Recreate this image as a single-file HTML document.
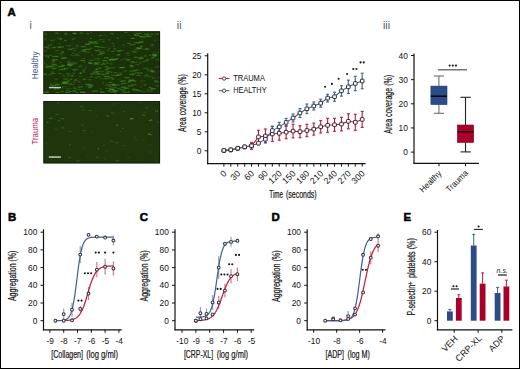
<!DOCTYPE html>
<html><head><meta charset="utf-8"><style>
html,body{margin:0;padding:0;background:#fff;}
svg{display:block;font-family:"Liberation Sans", sans-serif;}
</style></head><body>
<svg width="520" height="369" viewBox="0 0 520 369">
<rect x="0.5" y="0.5" width="519" height="368" fill="#fff" stroke="#000" stroke-width="1"/>
<text x="7.60" y="16.00" font-size="11.4" text-anchor="start" fill="#000" font-weight="bold" stroke="#000" stroke-width="0.55" stroke-linejoin="round">A</text>
<text x="7.90" y="220.90" font-size="11.4" text-anchor="start" fill="#000" font-weight="bold" stroke="#000" stroke-width="0.55" stroke-linejoin="round">B</text>
<text x="139.70" y="220.90" font-size="11.4" text-anchor="start" fill="#000" font-weight="bold" stroke="#000" stroke-width="0.55" stroke-linejoin="round">C</text>
<text x="271.60" y="220.90" font-size="11.4" text-anchor="start" fill="#000" font-weight="bold" stroke="#000" stroke-width="0.55" stroke-linejoin="round">D</text>
<text x="403.50" y="220.90" font-size="11.4" text-anchor="start" fill="#000" font-weight="bold" stroke="#000" stroke-width="0.55" stroke-linejoin="round">E</text>
<text x="29.60" y="28.60" font-size="10.5" text-anchor="start" fill="#555" font-weight="normal" >i</text>
<text x="176.80" y="28.80" font-size="10.5" text-anchor="start" fill="#555" font-weight="normal" >ii</text>
<text x="383.00" y="28.80" font-size="10.5" text-anchor="start" fill="#555" font-weight="normal" >iii</text>
<defs><clipPath id="c1"><rect x="43.5" y="31.4" width="116.5" height="62.5"/></clipPath><clipPath id="c2"><rect x="43.5" y="101.1" width="116.5" height="62.2"/></clipPath><filter id="blur" x="-20%" y="-50%" width="140%" height="200%"><feGaussianBlur stdDeviation="0.6"/></filter></defs>
<rect x="43.5" y="31.4" width="116.5" height="62.5" fill="#1a310a"/>
<g clip-path="url(#c1)"><g filter="url(#blur)">
<ellipse cx="59.2" cy="84.2" rx="1.2" ry="0.7" fill="#449026" opacity="0.22"/>
<ellipse cx="60.9" cy="84.3" rx="1.5" ry="0.7" fill="#449026" opacity="0.23"/>
<ellipse cx="132.9" cy="74.7" rx="0.9" ry="0.8" fill="#4a9a2a" opacity="0.43"/>
<ellipse cx="152.9" cy="55.2" rx="1.2" ry="0.6" fill="#5aaa36" opacity="0.43"/>
<ellipse cx="154.6" cy="55.1" rx="1.1" ry="0.6" fill="#5aaa36" opacity="0.47"/>
<ellipse cx="156.3" cy="55.0" rx="1.1" ry="0.6" fill="#5aaa36" opacity="0.54"/>
<ellipse cx="108.3" cy="71.5" rx="1.6" ry="0.8" fill="#449026" opacity="0.26"/>
<ellipse cx="110.0" cy="71.7" rx="1.3" ry="0.8" fill="#449026" opacity="0.20"/>
<ellipse cx="76.6" cy="92.2" rx="1.4" ry="0.7" fill="#52a030" opacity="0.36"/>
<ellipse cx="86.3" cy="86.6" rx="1.4" ry="0.7" fill="#449026" opacity="0.20"/>
<ellipse cx="88.0" cy="86.3" rx="1.2" ry="0.7" fill="#449026" opacity="0.17"/>
<ellipse cx="89.7" cy="86.8" rx="1.4" ry="0.7" fill="#449026" opacity="0.21"/>
<ellipse cx="89.4" cy="42.0" rx="1.3" ry="0.8" fill="#3f8a22" opacity="0.47"/>
<ellipse cx="91.1" cy="42.0" rx="1.5" ry="0.8" fill="#3f8a22" opacity="0.57"/>
<ellipse cx="92.8" cy="42.1" rx="1.4" ry="0.8" fill="#3f8a22" opacity="0.54"/>
<ellipse cx="88.2" cy="85.2" rx="1.0" ry="0.8" fill="#52a030" opacity="0.51"/>
<ellipse cx="89.9" cy="85.0" rx="1.2" ry="0.8" fill="#52a030" opacity="0.59"/>
<ellipse cx="91.6" cy="85.1" rx="1.2" ry="0.8" fill="#52a030" opacity="0.50"/>
<ellipse cx="43.7" cy="65.2" rx="1.3" ry="0.8" fill="#449026" opacity="0.32"/>
<ellipse cx="54.2" cy="65.8" rx="1.5" ry="0.6" fill="#449026" opacity="0.20"/>
<ellipse cx="55.9" cy="65.7" rx="1.1" ry="0.6" fill="#449026" opacity="0.20"/>
<ellipse cx="57.6" cy="65.7" rx="1.0" ry="0.6" fill="#449026" opacity="0.16"/>
<ellipse cx="73.2" cy="90.8" rx="1.0" ry="0.7" fill="#449026" opacity="0.34"/>
<ellipse cx="74.9" cy="90.8" rx="1.5" ry="0.7" fill="#449026" opacity="0.33"/>
<ellipse cx="128.6" cy="92.2" rx="1.2" ry="0.6" fill="#5aaa36" opacity="0.60"/>
<ellipse cx="95.4" cy="62.9" rx="1.3" ry="0.8" fill="#4a9a2a" opacity="0.62"/>
<ellipse cx="97.1" cy="63.1" rx="1.2" ry="0.8" fill="#4a9a2a" opacity="0.55"/>
<ellipse cx="98.8" cy="62.8" rx="1.3" ry="0.8" fill="#4a9a2a" opacity="0.54"/>
<ellipse cx="156.3" cy="86.0" rx="1.2" ry="0.8" fill="#3f8a22" opacity="0.25"/>
<ellipse cx="158.0" cy="85.9" rx="1.5" ry="0.8" fill="#3f8a22" opacity="0.34"/>
<ellipse cx="155.6" cy="67.1" rx="1.0" ry="0.6" fill="#52a030" opacity="0.44"/>
<ellipse cx="157.3" cy="67.0" rx="1.3" ry="0.6" fill="#52a030" opacity="0.45"/>
<ellipse cx="88.9" cy="62.8" rx="1.0" ry="0.6" fill="#52a030" opacity="0.63"/>
<ellipse cx="90.6" cy="62.8" rx="1.4" ry="0.6" fill="#52a030" opacity="0.49"/>
<ellipse cx="122.1" cy="83.8" rx="1.4" ry="0.7" fill="#449026" opacity="0.47"/>
<ellipse cx="123.8" cy="83.6" rx="0.9" ry="0.7" fill="#449026" opacity="0.49"/>
<ellipse cx="125.5" cy="83.6" rx="1.3" ry="0.7" fill="#449026" opacity="0.53"/>
<ellipse cx="102.4" cy="47.4" rx="1.4" ry="0.8" fill="#3f8a22" opacity="0.30"/>
<ellipse cx="104.1" cy="47.3" rx="1.4" ry="0.8" fill="#3f8a22" opacity="0.28"/>
<ellipse cx="105.8" cy="47.6" rx="1.2" ry="0.8" fill="#3f8a22" opacity="0.26"/>
<ellipse cx="58.1" cy="38.5" rx="1.0" ry="0.6" fill="#5aaa36" opacity="0.23"/>
<ellipse cx="59.8" cy="38.8" rx="1.3" ry="0.6" fill="#5aaa36" opacity="0.20"/>
<ellipse cx="61.5" cy="38.7" rx="1.1" ry="0.6" fill="#5aaa36" opacity="0.23"/>
<ellipse cx="44.9" cy="73.3" rx="1.4" ry="0.6" fill="#3f8a22" opacity="0.46"/>
<ellipse cx="96.0" cy="74.1" rx="1.3" ry="0.8" fill="#3f8a22" opacity="0.36"/>
<ellipse cx="97.7" cy="73.9" rx="1.4" ry="0.8" fill="#3f8a22" opacity="0.32"/>
<ellipse cx="80.5" cy="32.9" rx="1.1" ry="0.7" fill="#449026" opacity="0.55"/>
<ellipse cx="82.2" cy="33.3" rx="1.6" ry="0.7" fill="#449026" opacity="0.41"/>
<ellipse cx="68.6" cy="65.3" rx="1.0" ry="0.6" fill="#449026" opacity="0.31"/>
<ellipse cx="70.3" cy="65.5" rx="1.0" ry="0.6" fill="#449026" opacity="0.24"/>
<ellipse cx="72.0" cy="65.3" rx="1.3" ry="0.6" fill="#449026" opacity="0.25"/>
<ellipse cx="156.1" cy="34.0" rx="1.0" ry="0.6" fill="#52a030" opacity="0.61"/>
<ellipse cx="157.8" cy="33.8" rx="1.0" ry="0.6" fill="#52a030" opacity="0.61"/>
<ellipse cx="90.3" cy="76.8" rx="1.5" ry="0.7" fill="#3f8a22" opacity="0.29"/>
<ellipse cx="92.0" cy="76.8" rx="1.5" ry="0.7" fill="#3f8a22" opacity="0.34"/>
<ellipse cx="63.7" cy="82.6" rx="1.5" ry="0.6" fill="#3f8a22" opacity="0.54"/>
<ellipse cx="65.4" cy="82.7" rx="0.9" ry="0.6" fill="#3f8a22" opacity="0.54"/>
<ellipse cx="67.1" cy="83.0" rx="1.5" ry="0.6" fill="#3f8a22" opacity="0.53"/>
<ellipse cx="130.4" cy="74.4" rx="1.4" ry="0.8" fill="#5aaa36" opacity="0.34"/>
<ellipse cx="155.7" cy="81.8" rx="1.2" ry="0.7" fill="#52a030" opacity="0.33"/>
<ellipse cx="157.4" cy="82.0" rx="0.9" ry="0.7" fill="#52a030" opacity="0.35"/>
<ellipse cx="159.1" cy="81.7" rx="1.3" ry="0.7" fill="#52a030" opacity="0.34"/>
<ellipse cx="59.6" cy="39.2" rx="1.0" ry="0.6" fill="#449026" opacity="0.30"/>
<ellipse cx="61.3" cy="39.4" rx="1.1" ry="0.6" fill="#449026" opacity="0.39"/>
<ellipse cx="151.9" cy="71.3" rx="1.4" ry="0.8" fill="#449026" opacity="0.40"/>
<ellipse cx="153.6" cy="71.4" rx="1.4" ry="0.8" fill="#449026" opacity="0.44"/>
<ellipse cx="69.1" cy="89.2" rx="1.4" ry="0.6" fill="#449026" opacity="0.23"/>
<ellipse cx="125.2" cy="77.3" rx="1.0" ry="0.7" fill="#3f8a22" opacity="0.50"/>
<ellipse cx="126.9" cy="77.6" rx="1.3" ry="0.7" fill="#3f8a22" opacity="0.46"/>
<ellipse cx="128.6" cy="77.5" rx="1.4" ry="0.7" fill="#3f8a22" opacity="0.52"/>
<ellipse cx="103.5" cy="41.6" rx="1.3" ry="0.8" fill="#3f8a22" opacity="0.45"/>
<ellipse cx="155.3" cy="40.2" rx="1.2" ry="0.8" fill="#3f8a22" opacity="0.35"/>
<ellipse cx="62.7" cy="51.9" rx="1.3" ry="0.7" fill="#5aaa36" opacity="0.61"/>
<ellipse cx="75.8" cy="55.1" rx="1.3" ry="0.6" fill="#4a9a2a" opacity="0.44"/>
<ellipse cx="77.5" cy="55.0" rx="1.0" ry="0.6" fill="#4a9a2a" opacity="0.40"/>
<ellipse cx="79.2" cy="55.1" rx="1.1" ry="0.6" fill="#4a9a2a" opacity="0.36"/>
<ellipse cx="123.1" cy="80.7" rx="1.0" ry="0.7" fill="#4a9a2a" opacity="0.46"/>
<ellipse cx="124.8" cy="81.0" rx="1.0" ry="0.7" fill="#4a9a2a" opacity="0.46"/>
<ellipse cx="46.3" cy="67.0" rx="1.0" ry="0.8" fill="#449026" opacity="0.59"/>
<ellipse cx="48.0" cy="67.0" rx="1.1" ry="0.8" fill="#449026" opacity="0.55"/>
<ellipse cx="49.7" cy="66.7" rx="1.3" ry="0.8" fill="#449026" opacity="0.57"/>
<ellipse cx="95.9" cy="50.5" rx="1.2" ry="0.8" fill="#52a030" opacity="0.45"/>
<ellipse cx="97.6" cy="50.6" rx="1.3" ry="0.8" fill="#52a030" opacity="0.41"/>
<ellipse cx="99.3" cy="50.3" rx="1.4" ry="0.8" fill="#52a030" opacity="0.44"/>
<ellipse cx="113.5" cy="75.3" rx="1.2" ry="0.6" fill="#52a030" opacity="0.25"/>
<ellipse cx="115.2" cy="75.4" rx="1.5" ry="0.6" fill="#52a030" opacity="0.27"/>
<ellipse cx="116.9" cy="75.5" rx="1.5" ry="0.6" fill="#52a030" opacity="0.25"/>
<ellipse cx="130.4" cy="71.4" rx="1.4" ry="0.6" fill="#3f8a22" opacity="0.32"/>
<ellipse cx="132.1" cy="71.2" rx="1.0" ry="0.6" fill="#3f8a22" opacity="0.38"/>
<ellipse cx="133.8" cy="71.6" rx="0.9" ry="0.6" fill="#3f8a22" opacity="0.38"/>
<ellipse cx="91.4" cy="74.1" rx="1.3" ry="0.6" fill="#5aaa36" opacity="0.45"/>
<ellipse cx="93.1" cy="74.0" rx="1.3" ry="0.6" fill="#5aaa36" opacity="0.44"/>
<ellipse cx="95.0" cy="41.6" rx="1.1" ry="0.7" fill="#4a9a2a" opacity="0.47"/>
<ellipse cx="96.7" cy="41.6" rx="1.1" ry="0.7" fill="#4a9a2a" opacity="0.39"/>
<ellipse cx="125.0" cy="88.4" rx="1.1" ry="0.6" fill="#5aaa36" opacity="0.46"/>
<ellipse cx="126.7" cy="88.2" rx="1.3" ry="0.6" fill="#5aaa36" opacity="0.42"/>
<ellipse cx="128.4" cy="88.2" rx="1.2" ry="0.6" fill="#5aaa36" opacity="0.39"/>
<ellipse cx="73.7" cy="69.7" rx="1.4" ry="0.6" fill="#449026" opacity="0.65"/>
<ellipse cx="75.4" cy="69.8" rx="1.2" ry="0.6" fill="#449026" opacity="0.67"/>
<ellipse cx="77.1" cy="69.4" rx="1.1" ry="0.6" fill="#449026" opacity="0.49"/>
<ellipse cx="128.8" cy="85.8" rx="1.6" ry="0.6" fill="#52a030" opacity="0.49"/>
<ellipse cx="130.5" cy="86.0" rx="1.4" ry="0.6" fill="#52a030" opacity="0.55"/>
<ellipse cx="132.2" cy="85.8" rx="1.1" ry="0.6" fill="#52a030" opacity="0.48"/>
<ellipse cx="67.5" cy="73.8" rx="1.6" ry="0.8" fill="#4a9a2a" opacity="0.38"/>
<ellipse cx="69.2" cy="74.1" rx="0.9" ry="0.8" fill="#4a9a2a" opacity="0.36"/>
<ellipse cx="101.1" cy="64.5" rx="1.0" ry="0.8" fill="#52a030" opacity="0.31"/>
<ellipse cx="102.8" cy="64.4" rx="1.2" ry="0.8" fill="#52a030" opacity="0.34"/>
<ellipse cx="104.5" cy="64.3" rx="1.0" ry="0.8" fill="#52a030" opacity="0.40"/>
<ellipse cx="97.4" cy="67.4" rx="1.0" ry="0.6" fill="#449026" opacity="0.26"/>
<ellipse cx="99.1" cy="67.6" rx="0.9" ry="0.6" fill="#449026" opacity="0.35"/>
<ellipse cx="100.8" cy="67.5" rx="1.5" ry="0.6" fill="#449026" opacity="0.28"/>
<ellipse cx="62.1" cy="82.9" rx="1.3" ry="0.8" fill="#3f8a22" opacity="0.16"/>
<ellipse cx="52.8" cy="72.4" rx="1.0" ry="0.7" fill="#3f8a22" opacity="0.20"/>
<ellipse cx="93.9" cy="43.3" rx="1.0" ry="0.8" fill="#4a9a2a" opacity="0.46"/>
<ellipse cx="95.6" cy="43.2" rx="1.1" ry="0.8" fill="#4a9a2a" opacity="0.51"/>
<ellipse cx="97.3" cy="43.3" rx="1.1" ry="0.8" fill="#4a9a2a" opacity="0.54"/>
<ellipse cx="63.9" cy="58.3" rx="1.3" ry="0.7" fill="#52a030" opacity="0.59"/>
<ellipse cx="65.6" cy="58.0" rx="1.5" ry="0.7" fill="#52a030" opacity="0.53"/>
<ellipse cx="114.6" cy="92.1" rx="1.0" ry="0.6" fill="#4a9a2a" opacity="0.49"/>
<ellipse cx="117.7" cy="88.4" rx="1.3" ry="0.6" fill="#52a030" opacity="0.28"/>
<ellipse cx="119.4" cy="88.5" rx="1.2" ry="0.6" fill="#52a030" opacity="0.37"/>
<ellipse cx="46.4" cy="64.1" rx="0.9" ry="0.8" fill="#449026" opacity="0.22"/>
<ellipse cx="73.8" cy="55.4" rx="1.0" ry="0.7" fill="#449026" opacity="0.21"/>
<ellipse cx="89.1" cy="87.6" rx="1.3" ry="0.7" fill="#4a9a2a" opacity="0.46"/>
<ellipse cx="90.8" cy="87.1" rx="1.3" ry="0.7" fill="#4a9a2a" opacity="0.52"/>
<ellipse cx="159.0" cy="77.6" rx="1.0" ry="0.7" fill="#5aaa36" opacity="0.36"/>
<ellipse cx="136.6" cy="64.5" rx="1.3" ry="0.8" fill="#449026" opacity="0.28"/>
<ellipse cx="138.3" cy="64.9" rx="1.1" ry="0.8" fill="#449026" opacity="0.35"/>
<ellipse cx="110.3" cy="59.9" rx="1.5" ry="0.8" fill="#5aaa36" opacity="0.64"/>
<ellipse cx="112.0" cy="59.5" rx="1.5" ry="0.8" fill="#5aaa36" opacity="0.56"/>
<ellipse cx="113.7" cy="59.9" rx="1.3" ry="0.8" fill="#5aaa36" opacity="0.61"/>
<ellipse cx="125.4" cy="78.1" rx="1.1" ry="0.7" fill="#449026" opacity="0.28"/>
<ellipse cx="127.1" cy="77.9" rx="1.1" ry="0.7" fill="#449026" opacity="0.30"/>
<ellipse cx="56.6" cy="79.4" rx="1.4" ry="0.8" fill="#52a030" opacity="0.17"/>
<ellipse cx="51.3" cy="67.3" rx="1.0" ry="0.7" fill="#3f8a22" opacity="0.42"/>
<ellipse cx="86.4" cy="84.6" rx="1.5" ry="0.7" fill="#449026" opacity="0.26"/>
<ellipse cx="122.2" cy="81.3" rx="1.4" ry="0.8" fill="#449026" opacity="0.34"/>
<ellipse cx="90.5" cy="86.4" rx="1.2" ry="0.8" fill="#52a030" opacity="0.33"/>
<ellipse cx="92.2" cy="86.3" rx="1.4" ry="0.8" fill="#52a030" opacity="0.30"/>
<ellipse cx="78.8" cy="87.1" rx="1.2" ry="0.6" fill="#52a030" opacity="0.51"/>
<ellipse cx="80.5" cy="86.9" rx="1.3" ry="0.6" fill="#52a030" opacity="0.46"/>
<ellipse cx="82.2" cy="86.7" rx="1.2" ry="0.6" fill="#52a030" opacity="0.44"/>
<ellipse cx="59.8" cy="47.1" rx="1.2" ry="0.6" fill="#5aaa36" opacity="0.51"/>
<ellipse cx="61.5" cy="47.0" rx="1.4" ry="0.6" fill="#5aaa36" opacity="0.41"/>
<ellipse cx="63.2" cy="46.9" rx="1.0" ry="0.6" fill="#5aaa36" opacity="0.44"/>
<ellipse cx="75.2" cy="80.2" rx="1.0" ry="0.7" fill="#5aaa36" opacity="0.48"/>
<ellipse cx="76.9" cy="80.1" rx="0.9" ry="0.7" fill="#5aaa36" opacity="0.45"/>
<ellipse cx="143.4" cy="68.1" rx="1.2" ry="0.6" fill="#5aaa36" opacity="0.26"/>
<ellipse cx="145.1" cy="68.1" rx="1.5" ry="0.6" fill="#5aaa36" opacity="0.31"/>
<ellipse cx="146.8" cy="68.2" rx="1.6" ry="0.6" fill="#5aaa36" opacity="0.27"/>
<ellipse cx="51.0" cy="44.2" rx="1.6" ry="0.7" fill="#3f8a22" opacity="0.23"/>
<ellipse cx="140.7" cy="37.0" rx="0.9" ry="0.7" fill="#3f8a22" opacity="0.46"/>
<ellipse cx="142.4" cy="37.1" rx="1.4" ry="0.7" fill="#3f8a22" opacity="0.45"/>
<ellipse cx="144.1" cy="37.2" rx="1.4" ry="0.7" fill="#3f8a22" opacity="0.43"/>
<ellipse cx="64.4" cy="81.5" rx="1.5" ry="0.7" fill="#3f8a22" opacity="0.49"/>
<ellipse cx="66.1" cy="81.7" rx="1.4" ry="0.7" fill="#3f8a22" opacity="0.49"/>
<ellipse cx="67.8" cy="81.7" rx="1.3" ry="0.7" fill="#3f8a22" opacity="0.44"/>
<ellipse cx="115.0" cy="75.5" rx="1.2" ry="0.6" fill="#449026" opacity="0.35"/>
<ellipse cx="116.7" cy="75.4" rx="1.1" ry="0.6" fill="#449026" opacity="0.33"/>
<ellipse cx="118.4" cy="75.1" rx="1.2" ry="0.6" fill="#449026" opacity="0.41"/>
<ellipse cx="120.1" cy="89.4" rx="1.4" ry="0.7" fill="#449026" opacity="0.18"/>
<ellipse cx="121.8" cy="89.4" rx="1.1" ry="0.7" fill="#449026" opacity="0.19"/>
<ellipse cx="123.5" cy="89.1" rx="1.0" ry="0.7" fill="#449026" opacity="0.20"/>
<ellipse cx="113.2" cy="91.3" rx="1.2" ry="0.6" fill="#52a030" opacity="0.39"/>
<ellipse cx="114.9" cy="91.5" rx="1.2" ry="0.6" fill="#52a030" opacity="0.35"/>
<ellipse cx="64.0" cy="78.8" rx="1.3" ry="0.6" fill="#52a030" opacity="0.41"/>
<ellipse cx="65.7" cy="79.1" rx="1.4" ry="0.6" fill="#52a030" opacity="0.42"/>
<ellipse cx="67.4" cy="78.8" rx="1.3" ry="0.6" fill="#52a030" opacity="0.40"/>
<ellipse cx="146.9" cy="74.9" rx="1.4" ry="0.7" fill="#52a030" opacity="0.47"/>
<ellipse cx="109.6" cy="86.8" rx="1.1" ry="0.8" fill="#3f8a22" opacity="0.46"/>
<ellipse cx="111.3" cy="86.8" rx="1.3" ry="0.8" fill="#3f8a22" opacity="0.46"/>
<ellipse cx="127.2" cy="55.1" rx="1.0" ry="0.8" fill="#449026" opacity="0.22"/>
<ellipse cx="128.9" cy="55.4" rx="1.0" ry="0.8" fill="#449026" opacity="0.21"/>
<ellipse cx="72.5" cy="64.6" rx="1.4" ry="0.7" fill="#3f8a22" opacity="0.20"/>
<ellipse cx="74.2" cy="64.3" rx="1.1" ry="0.7" fill="#3f8a22" opacity="0.26"/>
<ellipse cx="155.2" cy="80.9" rx="1.4" ry="0.7" fill="#4a9a2a" opacity="0.43"/>
<ellipse cx="156.9" cy="80.9" rx="1.3" ry="0.7" fill="#4a9a2a" opacity="0.41"/>
<ellipse cx="148.2" cy="70.9" rx="1.1" ry="0.6" fill="#3f8a22" opacity="0.43"/>
<ellipse cx="72.7" cy="48.4" rx="1.2" ry="0.6" fill="#5aaa36" opacity="0.23"/>
<ellipse cx="74.4" cy="48.5" rx="1.3" ry="0.6" fill="#5aaa36" opacity="0.24"/>
<ellipse cx="76.1" cy="48.1" rx="1.4" ry="0.6" fill="#5aaa36" opacity="0.21"/>
<ellipse cx="123.0" cy="44.9" rx="1.5" ry="0.6" fill="#449026" opacity="0.32"/>
<ellipse cx="124.7" cy="45.0" rx="1.0" ry="0.6" fill="#449026" opacity="0.30"/>
<ellipse cx="121.2" cy="81.3" rx="1.4" ry="0.8" fill="#3f8a22" opacity="0.41"/>
<ellipse cx="146.3" cy="60.2" rx="1.2" ry="0.8" fill="#52a030" opacity="0.39"/>
<ellipse cx="148.0" cy="59.9" rx="1.2" ry="0.8" fill="#52a030" opacity="0.49"/>
<ellipse cx="43.6" cy="34.1" rx="1.4" ry="0.7" fill="#4a9a2a" opacity="0.46"/>
<ellipse cx="45.3" cy="34.0" rx="1.1" ry="0.7" fill="#4a9a2a" opacity="0.42"/>
<ellipse cx="151.6" cy="70.2" rx="1.5" ry="0.8" fill="#449026" opacity="0.61"/>
<ellipse cx="83.8" cy="79.6" rx="1.5" ry="0.6" fill="#5aaa36" opacity="0.37"/>
<ellipse cx="85.5" cy="79.7" rx="1.3" ry="0.6" fill="#5aaa36" opacity="0.29"/>
<ellipse cx="121.9" cy="87.1" rx="1.3" ry="0.6" fill="#5aaa36" opacity="0.49"/>
<ellipse cx="123.6" cy="87.3" rx="1.3" ry="0.6" fill="#5aaa36" opacity="0.53"/>
<ellipse cx="125.3" cy="87.0" rx="1.1" ry="0.6" fill="#5aaa36" opacity="0.64"/>
<ellipse cx="81.8" cy="46.6" rx="1.4" ry="0.8" fill="#5aaa36" opacity="0.32"/>
<ellipse cx="83.5" cy="46.8" rx="1.3" ry="0.8" fill="#5aaa36" opacity="0.38"/>
<ellipse cx="85.2" cy="46.5" rx="1.5" ry="0.8" fill="#5aaa36" opacity="0.31"/>
<ellipse cx="56.2" cy="32.9" rx="1.5" ry="0.8" fill="#4a9a2a" opacity="0.32"/>
<ellipse cx="57.9" cy="33.2" rx="1.6" ry="0.8" fill="#4a9a2a" opacity="0.42"/>
<ellipse cx="45.7" cy="56.1" rx="1.3" ry="0.8" fill="#4a9a2a" opacity="0.39"/>
<ellipse cx="47.4" cy="56.0" rx="1.0" ry="0.8" fill="#4a9a2a" opacity="0.42"/>
<ellipse cx="52.4" cy="64.8" rx="1.1" ry="0.6" fill="#4a9a2a" opacity="0.20"/>
<ellipse cx="54.1" cy="64.8" rx="1.3" ry="0.6" fill="#4a9a2a" opacity="0.24"/>
<ellipse cx="55.8" cy="65.2" rx="1.3" ry="0.6" fill="#4a9a2a" opacity="0.21"/>
<ellipse cx="89.9" cy="60.2" rx="1.5" ry="0.6" fill="#3f8a22" opacity="0.34"/>
<ellipse cx="91.6" cy="60.2" rx="1.4" ry="0.6" fill="#3f8a22" opacity="0.38"/>
<ellipse cx="93.3" cy="60.6" rx="1.2" ry="0.6" fill="#3f8a22" opacity="0.30"/>
<ellipse cx="59.0" cy="66.6" rx="1.3" ry="0.8" fill="#52a030" opacity="0.47"/>
<ellipse cx="60.7" cy="66.5" rx="1.5" ry="0.8" fill="#52a030" opacity="0.41"/>
<ellipse cx="62.4" cy="66.4" rx="1.5" ry="0.8" fill="#52a030" opacity="0.41"/>
<ellipse cx="63.9" cy="76.4" rx="1.1" ry="0.6" fill="#449026" opacity="0.32"/>
<ellipse cx="45.1" cy="91.0" rx="1.0" ry="0.7" fill="#4a9a2a" opacity="0.29"/>
<ellipse cx="46.8" cy="91.0" rx="1.3" ry="0.7" fill="#4a9a2a" opacity="0.24"/>
<ellipse cx="48.5" cy="91.1" rx="1.0" ry="0.7" fill="#4a9a2a" opacity="0.22"/>
<ellipse cx="135.1" cy="35.0" rx="1.0" ry="0.7" fill="#5aaa36" opacity="0.30"/>
<ellipse cx="71.6" cy="55.2" rx="1.4" ry="0.6" fill="#5aaa36" opacity="0.33"/>
<ellipse cx="53.8" cy="83.2" rx="1.3" ry="0.7" fill="#5aaa36" opacity="0.16"/>
<ellipse cx="55.5" cy="83.3" rx="0.9" ry="0.7" fill="#5aaa36" opacity="0.17"/>
<ellipse cx="57.2" cy="83.3" rx="1.5" ry="0.7" fill="#5aaa36" opacity="0.19"/>
<ellipse cx="55.5" cy="85.0" rx="1.0" ry="0.7" fill="#4a9a2a" opacity="0.52"/>
<ellipse cx="57.2" cy="84.7" rx="1.5" ry="0.7" fill="#4a9a2a" opacity="0.56"/>
<ellipse cx="58.9" cy="84.9" rx="1.0" ry="0.7" fill="#4a9a2a" opacity="0.44"/>
<ellipse cx="43.9" cy="38.7" rx="1.1" ry="0.7" fill="#52a030" opacity="0.29"/>
<ellipse cx="45.6" cy="39.0" rx="1.4" ry="0.7" fill="#52a030" opacity="0.30"/>
<ellipse cx="91.3" cy="48.3" rx="1.5" ry="0.8" fill="#5aaa36" opacity="0.24"/>
<ellipse cx="131.3" cy="62.0" rx="1.0" ry="0.8" fill="#52a030" opacity="0.44"/>
<ellipse cx="133.0" cy="61.9" rx="1.2" ry="0.8" fill="#52a030" opacity="0.60"/>
<ellipse cx="112.9" cy="43.5" rx="1.5" ry="0.7" fill="#52a030" opacity="0.35"/>
<ellipse cx="51.0" cy="88.0" rx="1.6" ry="0.8" fill="#52a030" opacity="0.25"/>
<ellipse cx="51.1" cy="85.5" rx="1.4" ry="0.8" fill="#3f8a22" opacity="0.68"/>
<ellipse cx="52.8" cy="85.7" rx="1.2" ry="0.8" fill="#3f8a22" opacity="0.60"/>
<ellipse cx="54.5" cy="85.5" rx="1.5" ry="0.8" fill="#3f8a22" opacity="0.58"/>
<ellipse cx="112.1" cy="51.4" rx="1.3" ry="0.6" fill="#52a030" opacity="0.39"/>
<ellipse cx="113.8" cy="51.2" rx="1.2" ry="0.6" fill="#52a030" opacity="0.34"/>
<ellipse cx="111.3" cy="33.5" rx="1.4" ry="0.8" fill="#3f8a22" opacity="0.53"/>
<ellipse cx="113.0" cy="33.9" rx="1.0" ry="0.8" fill="#3f8a22" opacity="0.47"/>
<ellipse cx="106.4" cy="88.4" rx="1.2" ry="0.7" fill="#4a9a2a" opacity="0.54"/>
<ellipse cx="85.4" cy="52.9" rx="1.1" ry="0.8" fill="#449026" opacity="0.20"/>
<ellipse cx="89.8" cy="49.1" rx="1.6" ry="0.8" fill="#3f8a22" opacity="0.18"/>
<ellipse cx="107.7" cy="71.6" rx="1.3" ry="0.6" fill="#3f8a22" opacity="0.32"/>
<ellipse cx="109.4" cy="71.5" rx="1.0" ry="0.6" fill="#3f8a22" opacity="0.29"/>
<ellipse cx="83.1" cy="50.1" rx="0.9" ry="0.8" fill="#3f8a22" opacity="0.35"/>
<ellipse cx="84.8" cy="49.9" rx="1.0" ry="0.8" fill="#3f8a22" opacity="0.38"/>
<ellipse cx="125.3" cy="71.0" rx="1.3" ry="0.6" fill="#4a9a2a" opacity="0.58"/>
<ellipse cx="127.6" cy="60.0" rx="1.3" ry="0.8" fill="#449026" opacity="0.67"/>
<ellipse cx="129.3" cy="59.8" rx="1.3" ry="0.8" fill="#449026" opacity="0.58"/>
<ellipse cx="62.7" cy="87.8" rx="1.0" ry="0.7" fill="#4a9a2a" opacity="0.44"/>
<ellipse cx="95.1" cy="46.4" rx="1.3" ry="0.6" fill="#449026" opacity="0.35"/>
<ellipse cx="96.8" cy="46.6" rx="1.6" ry="0.6" fill="#449026" opacity="0.35"/>
<ellipse cx="98.5" cy="46.6" rx="1.2" ry="0.6" fill="#449026" opacity="0.39"/>
<ellipse cx="120.3" cy="67.5" rx="1.0" ry="0.7" fill="#5aaa36" opacity="0.56"/>
<ellipse cx="122.0" cy="67.7" rx="1.5" ry="0.7" fill="#5aaa36" opacity="0.58"/>
<ellipse cx="123.7" cy="67.5" rx="1.3" ry="0.7" fill="#5aaa36" opacity="0.52"/>
<ellipse cx="99.1" cy="73.9" rx="1.4" ry="0.8" fill="#5aaa36" opacity="0.44"/>
<ellipse cx="137.4" cy="69.3" rx="1.2" ry="0.8" fill="#449026" opacity="0.18"/>
<ellipse cx="67.9" cy="61.3" rx="1.0" ry="0.6" fill="#4a9a2a" opacity="0.38"/>
<ellipse cx="69.6" cy="61.2" rx="1.1" ry="0.6" fill="#4a9a2a" opacity="0.28"/>
<ellipse cx="87.6" cy="51.8" rx="1.4" ry="0.6" fill="#3f8a22" opacity="0.22"/>
<ellipse cx="134.5" cy="49.9" rx="1.0" ry="0.8" fill="#449026" opacity="0.27"/>
<ellipse cx="136.2" cy="49.7" rx="1.3" ry="0.8" fill="#449026" opacity="0.25"/>
<ellipse cx="137.9" cy="49.8" rx="1.2" ry="0.8" fill="#449026" opacity="0.27"/>
<ellipse cx="144.4" cy="36.1" rx="1.1" ry="0.6" fill="#4a9a2a" opacity="0.41"/>
<ellipse cx="146.1" cy="36.1" rx="1.3" ry="0.6" fill="#4a9a2a" opacity="0.40"/>
<ellipse cx="147.8" cy="36.0" rx="1.4" ry="0.6" fill="#4a9a2a" opacity="0.46"/>
<ellipse cx="123.6" cy="59.3" rx="1.1" ry="0.7" fill="#4a9a2a" opacity="0.18"/>
<ellipse cx="125.3" cy="59.0" rx="1.6" ry="0.7" fill="#4a9a2a" opacity="0.19"/>
<ellipse cx="137.9" cy="73.0" rx="1.3" ry="0.7" fill="#449026" opacity="0.53"/>
<ellipse cx="139.6" cy="73.1" rx="1.4" ry="0.7" fill="#449026" opacity="0.45"/>
<ellipse cx="141.3" cy="72.7" rx="1.2" ry="0.7" fill="#449026" opacity="0.42"/>
<ellipse cx="103.5" cy="63.3" rx="1.4" ry="0.6" fill="#3f8a22" opacity="0.63"/>
<ellipse cx="46.0" cy="34.8" rx="1.3" ry="0.7" fill="#449026" opacity="0.29"/>
<ellipse cx="111.3" cy="64.0" rx="1.3" ry="0.6" fill="#4a9a2a" opacity="0.24"/>
<ellipse cx="90.9" cy="32.6" rx="1.1" ry="0.6" fill="#3f8a22" opacity="0.42"/>
<ellipse cx="80.1" cy="76.6" rx="1.6" ry="0.8" fill="#5aaa36" opacity="0.20"/>
<ellipse cx="66.8" cy="45.8" rx="1.0" ry="0.8" fill="#3f8a22" opacity="0.28"/>
<ellipse cx="68.5" cy="45.7" rx="1.6" ry="0.8" fill="#3f8a22" opacity="0.26"/>
<ellipse cx="70.2" cy="45.7" rx="1.5" ry="0.8" fill="#3f8a22" opacity="0.28"/>
<ellipse cx="132.6" cy="51.6" rx="1.2" ry="0.7" fill="#52a030" opacity="0.37"/>
<ellipse cx="134.3" cy="52.0" rx="1.5" ry="0.7" fill="#52a030" opacity="0.34"/>
<ellipse cx="136.0" cy="51.5" rx="1.0" ry="0.7" fill="#52a030" opacity="0.37"/>
<ellipse cx="146.7" cy="89.6" rx="1.2" ry="0.7" fill="#449026" opacity="0.29"/>
<ellipse cx="148.4" cy="89.4" rx="1.0" ry="0.7" fill="#449026" opacity="0.35"/>
<ellipse cx="145.0" cy="75.9" rx="1.0" ry="0.6" fill="#5aaa36" opacity="0.40"/>
<ellipse cx="118.6" cy="50.9" rx="1.5" ry="0.8" fill="#52a030" opacity="0.27"/>
<ellipse cx="120.3" cy="50.8" rx="1.0" ry="0.8" fill="#52a030" opacity="0.37"/>
<ellipse cx="128.1" cy="43.4" rx="1.4" ry="0.8" fill="#449026" opacity="0.41"/>
<ellipse cx="129.8" cy="43.2" rx="1.1" ry="0.8" fill="#449026" opacity="0.45"/>
<ellipse cx="47.3" cy="48.3" rx="1.2" ry="0.6" fill="#4a9a2a" opacity="0.17"/>
<ellipse cx="49.0" cy="48.4" rx="1.6" ry="0.6" fill="#4a9a2a" opacity="0.16"/>
<ellipse cx="54.8" cy="39.9" rx="1.3" ry="0.6" fill="#449026" opacity="0.26"/>
<ellipse cx="113.4" cy="85.2" rx="1.5" ry="0.6" fill="#5aaa36" opacity="0.46"/>
<ellipse cx="115.1" cy="85.2" rx="1.1" ry="0.6" fill="#5aaa36" opacity="0.36"/>
<ellipse cx="133.5" cy="32.8" rx="1.1" ry="0.6" fill="#4a9a2a" opacity="0.17"/>
<ellipse cx="135.2" cy="32.8" rx="1.2" ry="0.6" fill="#4a9a2a" opacity="0.20"/>
<ellipse cx="62.7" cy="74.8" rx="1.5" ry="0.7" fill="#3f8a22" opacity="0.26"/>
<ellipse cx="64.4" cy="74.6" rx="1.1" ry="0.7" fill="#3f8a22" opacity="0.26"/>
<ellipse cx="120.9" cy="89.9" rx="1.1" ry="0.6" fill="#449026" opacity="0.39"/>
<ellipse cx="122.6" cy="89.8" rx="1.6" ry="0.6" fill="#449026" opacity="0.40"/>
<ellipse cx="124.3" cy="89.9" rx="1.6" ry="0.6" fill="#449026" opacity="0.39"/>
<ellipse cx="74.1" cy="82.3" rx="1.3" ry="0.6" fill="#5aaa36" opacity="0.34"/>
<ellipse cx="151.5" cy="44.9" rx="1.4" ry="0.7" fill="#52a030" opacity="0.36"/>
<ellipse cx="153.2" cy="45.0" rx="1.2" ry="0.7" fill="#52a030" opacity="0.39"/>
<ellipse cx="145.3" cy="55.9" rx="1.3" ry="0.6" fill="#5aaa36" opacity="0.49"/>
<ellipse cx="104.0" cy="60.6" rx="1.2" ry="0.7" fill="#449026" opacity="0.57"/>
<ellipse cx="109.0" cy="77.7" rx="1.1" ry="0.7" fill="#52a030" opacity="0.35"/>
<ellipse cx="110.7" cy="78.0" rx="1.3" ry="0.7" fill="#52a030" opacity="0.32"/>
<ellipse cx="112.4" cy="77.6" rx="1.5" ry="0.7" fill="#52a030" opacity="0.29"/>
<ellipse cx="151.9" cy="34.3" rx="1.2" ry="0.7" fill="#449026" opacity="0.66"/>
<ellipse cx="114.5" cy="59.4" rx="1.1" ry="0.6" fill="#4a9a2a" opacity="0.55"/>
<ellipse cx="116.2" cy="59.4" rx="1.0" ry="0.6" fill="#4a9a2a" opacity="0.61"/>
<ellipse cx="79.4" cy="66.3" rx="1.3" ry="0.6" fill="#5aaa36" opacity="0.40"/>
<ellipse cx="81.1" cy="65.9" rx="1.5" ry="0.6" fill="#5aaa36" opacity="0.34"/>
<ellipse cx="44.3" cy="92.7" rx="1.3" ry="0.8" fill="#5aaa36" opacity="0.53"/>
<ellipse cx="46.0" cy="92.9" rx="1.2" ry="0.8" fill="#5aaa36" opacity="0.40"/>
<ellipse cx="47.7" cy="92.5" rx="1.4" ry="0.8" fill="#5aaa36" opacity="0.45"/>
<ellipse cx="95.2" cy="42.8" rx="1.3" ry="0.8" fill="#52a030" opacity="0.17"/>
<ellipse cx="84.1" cy="78.4" rx="1.5" ry="0.7" fill="#449026" opacity="0.28"/>
<ellipse cx="70.3" cy="84.5" rx="1.6" ry="0.7" fill="#3f8a22" opacity="0.34"/>
<ellipse cx="72.0" cy="84.5" rx="1.0" ry="0.7" fill="#3f8a22" opacity="0.33"/>
<ellipse cx="73.7" cy="84.6" rx="1.5" ry="0.7" fill="#3f8a22" opacity="0.33"/>
<ellipse cx="60.9" cy="69.4" rx="1.0" ry="0.8" fill="#4a9a2a" opacity="0.46"/>
<ellipse cx="62.6" cy="69.5" rx="1.0" ry="0.8" fill="#4a9a2a" opacity="0.51"/>
<ellipse cx="64.3" cy="69.3" rx="1.1" ry="0.8" fill="#4a9a2a" opacity="0.54"/>
<ellipse cx="95.4" cy="77.7" rx="1.2" ry="0.6" fill="#52a030" opacity="0.33"/>
<ellipse cx="97.1" cy="77.7" rx="1.3" ry="0.6" fill="#52a030" opacity="0.31"/>
<ellipse cx="139.5" cy="90.8" rx="1.5" ry="0.7" fill="#449026" opacity="0.51"/>
<ellipse cx="141.2" cy="91.1" rx="1.5" ry="0.7" fill="#449026" opacity="0.42"/>
<ellipse cx="106.0" cy="85.3" rx="1.1" ry="0.8" fill="#3f8a22" opacity="0.47"/>
<ellipse cx="107.7" cy="85.1" rx="1.2" ry="0.8" fill="#3f8a22" opacity="0.53"/>
<ellipse cx="109.4" cy="85.2" rx="1.2" ry="0.8" fill="#3f8a22" opacity="0.56"/>
<ellipse cx="77.1" cy="45.7" rx="1.4" ry="0.6" fill="#5aaa36" opacity="0.43"/>
<ellipse cx="134.8" cy="70.1" rx="1.0" ry="0.6" fill="#4a9a2a" opacity="0.17"/>
<ellipse cx="136.5" cy="69.8" rx="0.9" ry="0.6" fill="#4a9a2a" opacity="0.22"/>
<ellipse cx="138.2" cy="69.7" rx="1.6" ry="0.6" fill="#4a9a2a" opacity="0.22"/>
<ellipse cx="138.8" cy="42.6" rx="1.6" ry="0.8" fill="#5aaa36" opacity="0.33"/>
<ellipse cx="140.5" cy="42.5" rx="1.6" ry="0.8" fill="#5aaa36" opacity="0.31"/>
<ellipse cx="142.2" cy="42.8" rx="1.3" ry="0.8" fill="#5aaa36" opacity="0.31"/>
<ellipse cx="95.0" cy="63.9" rx="1.1" ry="0.8" fill="#449026" opacity="0.41"/>
<ellipse cx="96.7" cy="63.9" rx="1.0" ry="0.8" fill="#449026" opacity="0.43"/>
<ellipse cx="98.4" cy="64.2" rx="1.2" ry="0.8" fill="#449026" opacity="0.37"/>
<ellipse cx="105.6" cy="66.5" rx="1.1" ry="0.8" fill="#449026" opacity="0.47"/>
<ellipse cx="107.3" cy="66.9" rx="1.3" ry="0.8" fill="#449026" opacity="0.51"/>
<ellipse cx="67.5" cy="88.3" rx="1.5" ry="0.6" fill="#449026" opacity="0.21"/>
<ellipse cx="69.2" cy="88.1" rx="1.0" ry="0.6" fill="#449026" opacity="0.16"/>
<ellipse cx="70.9" cy="88.4" rx="1.4" ry="0.6" fill="#449026" opacity="0.19"/>
<ellipse cx="119.5" cy="73.1" rx="1.2" ry="0.7" fill="#449026" opacity="0.40"/>
<ellipse cx="121.2" cy="73.0" rx="0.9" ry="0.7" fill="#449026" opacity="0.37"/>
<ellipse cx="121.5" cy="59.7" rx="1.5" ry="0.8" fill="#52a030" opacity="0.21"/>
<ellipse cx="135.0" cy="57.3" rx="0.9" ry="0.7" fill="#449026" opacity="0.59"/>
<ellipse cx="136.7" cy="57.4" rx="1.3" ry="0.7" fill="#449026" opacity="0.53"/>
<ellipse cx="141.5" cy="46.5" rx="1.0" ry="0.7" fill="#5aaa36" opacity="0.60"/>
<ellipse cx="99.8" cy="68.4" rx="1.5" ry="0.6" fill="#52a030" opacity="0.41"/>
<ellipse cx="113.6" cy="90.7" rx="1.0" ry="0.6" fill="#52a030" opacity="0.34"/>
<ellipse cx="115.3" cy="90.7" rx="1.4" ry="0.6" fill="#52a030" opacity="0.31"/>
<ellipse cx="117.0" cy="90.7" rx="1.5" ry="0.6" fill="#52a030" opacity="0.35"/>
<ellipse cx="112.3" cy="31.7" rx="1.3" ry="0.7" fill="#4a9a2a" opacity="0.20"/>
<ellipse cx="114.0" cy="31.7" rx="0.9" ry="0.7" fill="#4a9a2a" opacity="0.19"/>
<ellipse cx="115.8" cy="58.8" rx="0.9" ry="0.7" fill="#449026" opacity="0.54"/>
<ellipse cx="117.5" cy="58.7" rx="1.2" ry="0.7" fill="#449026" opacity="0.51"/>
<ellipse cx="80.9" cy="92.3" rx="1.2" ry="0.7" fill="#5aaa36" opacity="0.55"/>
<ellipse cx="82.6" cy="92.1" rx="0.9" ry="0.7" fill="#5aaa36" opacity="0.69"/>
<ellipse cx="84.3" cy="92.4" rx="1.5" ry="0.7" fill="#5aaa36" opacity="0.54"/>
<ellipse cx="141.2" cy="80.9" rx="1.6" ry="0.8" fill="#449026" opacity="0.22"/>
<ellipse cx="142.9" cy="81.0" rx="1.4" ry="0.8" fill="#449026" opacity="0.23"/>
<ellipse cx="144.6" cy="81.0" rx="1.0" ry="0.8" fill="#449026" opacity="0.23"/>
<ellipse cx="133.2" cy="70.4" rx="1.6" ry="0.6" fill="#5aaa36" opacity="0.30"/>
<ellipse cx="134.9" cy="70.4" rx="1.0" ry="0.6" fill="#5aaa36" opacity="0.30"/>
<ellipse cx="136.6" cy="70.4" rx="1.3" ry="0.6" fill="#5aaa36" opacity="0.33"/>
<ellipse cx="95.6" cy="69.4" rx="0.9" ry="0.6" fill="#52a030" opacity="0.45"/>
<ellipse cx="108.2" cy="50.4" rx="1.0" ry="0.8" fill="#4a9a2a" opacity="0.42"/>
<ellipse cx="109.1" cy="48.3" rx="1.1" ry="0.8" fill="#52a030" opacity="0.43"/>
<ellipse cx="114.7" cy="48.8" rx="1.4" ry="0.6" fill="#5aaa36" opacity="0.55"/>
<ellipse cx="139.5" cy="58.4" rx="1.6" ry="0.8" fill="#449026" opacity="0.52"/>
<ellipse cx="141.2" cy="58.2" rx="1.6" ry="0.8" fill="#449026" opacity="0.64"/>
<ellipse cx="142.9" cy="58.1" rx="1.1" ry="0.8" fill="#449026" opacity="0.52"/>
<ellipse cx="124.0" cy="92.4" rx="1.4" ry="0.8" fill="#3f8a22" opacity="0.35"/>
<ellipse cx="125.7" cy="92.7" rx="1.4" ry="0.8" fill="#3f8a22" opacity="0.44"/>
<ellipse cx="127.4" cy="92.8" rx="1.5" ry="0.8" fill="#3f8a22" opacity="0.40"/>
<ellipse cx="87.8" cy="33.7" rx="1.5" ry="0.6" fill="#5aaa36" opacity="0.45"/>
<ellipse cx="125.2" cy="58.6" rx="1.0" ry="0.7" fill="#3f8a22" opacity="0.29"/>
<ellipse cx="126.9" cy="58.9" rx="1.3" ry="0.7" fill="#3f8a22" opacity="0.27"/>
<ellipse cx="108.0" cy="57.7" rx="0.9" ry="0.7" fill="#5aaa36" opacity="0.56"/>
<ellipse cx="54.6" cy="68.8" rx="1.6" ry="0.6" fill="#5aaa36" opacity="0.29"/>
<ellipse cx="73.8" cy="73.5" rx="1.2" ry="0.8" fill="#52a030" opacity="0.42"/>
<ellipse cx="137.1" cy="33.3" rx="1.2" ry="0.8" fill="#4a9a2a" opacity="0.45"/>
<ellipse cx="138.8" cy="33.3" rx="0.9" ry="0.8" fill="#4a9a2a" opacity="0.48"/>
<ellipse cx="140.5" cy="33.2" rx="1.0" ry="0.8" fill="#4a9a2a" opacity="0.57"/>
<ellipse cx="53.3" cy="69.4" rx="1.1" ry="0.7" fill="#3f8a22" opacity="0.20"/>
<ellipse cx="85.2" cy="51.7" rx="1.1" ry="0.6" fill="#449026" opacity="0.59"/>
<ellipse cx="68.9" cy="91.1" rx="1.4" ry="0.7" fill="#52a030" opacity="0.32"/>
<ellipse cx="70.6" cy="91.4" rx="1.1" ry="0.7" fill="#52a030" opacity="0.35"/>
<ellipse cx="53.3" cy="56.4" rx="1.2" ry="0.6" fill="#52a030" opacity="0.51"/>
<ellipse cx="55.0" cy="56.3" rx="1.2" ry="0.6" fill="#52a030" opacity="0.50"/>
<ellipse cx="56.7" cy="56.5" rx="1.5" ry="0.6" fill="#52a030" opacity="0.63"/>
<ellipse cx="77.2" cy="92.9" rx="1.0" ry="0.8" fill="#449026" opacity="0.23"/>
<ellipse cx="96.9" cy="69.0" rx="1.1" ry="0.6" fill="#5aaa36" opacity="0.37"/>
<ellipse cx="79.4" cy="88.9" rx="1.5" ry="0.7" fill="#3f8a22" opacity="0.16"/>
<ellipse cx="80.3" cy="72.8" rx="1.0" ry="0.7" fill="#3f8a22" opacity="0.29"/>
<ellipse cx="157.0" cy="59.1" rx="1.3" ry="0.6" fill="#52a030" opacity="0.24"/>
<ellipse cx="158.7" cy="59.1" rx="0.9" ry="0.6" fill="#52a030" opacity="0.25"/>
<ellipse cx="110.7" cy="63.7" rx="1.6" ry="0.7" fill="#5aaa36" opacity="0.17"/>
<ellipse cx="112.4" cy="63.7" rx="1.3" ry="0.7" fill="#5aaa36" opacity="0.15"/>
<ellipse cx="132.0" cy="66.4" rx="1.5" ry="0.7" fill="#52a030" opacity="0.24"/>
<ellipse cx="48.3" cy="57.0" rx="0.9" ry="0.8" fill="#5aaa36" opacity="0.53"/>
<ellipse cx="106.9" cy="68.4" rx="0.9" ry="0.8" fill="#449026" opacity="0.42"/>
<ellipse cx="108.6" cy="68.4" rx="1.3" ry="0.8" fill="#449026" opacity="0.41"/>
<ellipse cx="53.7" cy="61.6" rx="1.0" ry="0.6" fill="#5aaa36" opacity="0.59"/>
<ellipse cx="93.6" cy="91.2" rx="1.6" ry="0.8" fill="#4a9a2a" opacity="0.46"/>
<ellipse cx="95.3" cy="91.1" rx="0.9" ry="0.8" fill="#4a9a2a" opacity="0.41"/>
<ellipse cx="97.0" cy="91.1" rx="1.3" ry="0.8" fill="#4a9a2a" opacity="0.46"/>
<ellipse cx="111.3" cy="84.5" rx="1.5" ry="0.6" fill="#5aaa36" opacity="0.29"/>
<ellipse cx="113.0" cy="84.4" rx="1.5" ry="0.6" fill="#5aaa36" opacity="0.30"/>
<ellipse cx="114.7" cy="84.5" rx="0.9" ry="0.6" fill="#5aaa36" opacity="0.32"/>
<ellipse cx="157.5" cy="59.9" rx="1.1" ry="0.6" fill="#4a9a2a" opacity="0.41"/>
<ellipse cx="159.2" cy="60.2" rx="1.3" ry="0.6" fill="#4a9a2a" opacity="0.34"/>
<ellipse cx="160.9" cy="60.1" rx="1.3" ry="0.6" fill="#4a9a2a" opacity="0.34"/>
<ellipse cx="95.1" cy="46.6" rx="1.1" ry="0.6" fill="#3f8a22" opacity="0.54"/>
<ellipse cx="96.8" cy="46.4" rx="1.3" ry="0.6" fill="#3f8a22" opacity="0.54"/>
<ellipse cx="52.9" cy="60.0" rx="1.4" ry="0.7" fill="#5aaa36" opacity="0.55"/>
<ellipse cx="54.6" cy="60.1" rx="1.3" ry="0.7" fill="#5aaa36" opacity="0.45"/>
<ellipse cx="56.3" cy="59.6" rx="0.9" ry="0.7" fill="#5aaa36" opacity="0.50"/>
<ellipse cx="106.1" cy="69.9" rx="1.6" ry="0.6" fill="#3f8a22" opacity="0.41"/>
<ellipse cx="107.8" cy="69.8" rx="1.4" ry="0.6" fill="#3f8a22" opacity="0.36"/>
<ellipse cx="89.4" cy="93.5" rx="1.3" ry="0.6" fill="#5aaa36" opacity="0.17"/>
<ellipse cx="91.1" cy="93.3" rx="1.5" ry="0.6" fill="#5aaa36" opacity="0.22"/>
<ellipse cx="122.0" cy="92.1" rx="1.2" ry="0.7" fill="#3f8a22" opacity="0.42"/>
<ellipse cx="123.7" cy="91.9" rx="1.3" ry="0.7" fill="#3f8a22" opacity="0.42"/>
<ellipse cx="125.4" cy="92.1" rx="1.4" ry="0.7" fill="#3f8a22" opacity="0.49"/>
<ellipse cx="62.2" cy="65.2" rx="1.4" ry="0.8" fill="#52a030" opacity="0.41"/>
<ellipse cx="63.9" cy="65.5" rx="1.4" ry="0.8" fill="#52a030" opacity="0.44"/>
<ellipse cx="76.9" cy="53.9" rx="1.0" ry="0.8" fill="#52a030" opacity="0.26"/>
<ellipse cx="74.3" cy="79.5" rx="1.0" ry="0.6" fill="#5aaa36" opacity="0.16"/>
<ellipse cx="76.0" cy="79.5" rx="1.0" ry="0.6" fill="#5aaa36" opacity="0.19"/>
<ellipse cx="135.0" cy="34.8" rx="1.3" ry="0.6" fill="#5aaa36" opacity="0.62"/>
<ellipse cx="136.7" cy="35.2" rx="1.5" ry="0.6" fill="#5aaa36" opacity="0.53"/>
<ellipse cx="138.4" cy="35.2" rx="1.0" ry="0.6" fill="#5aaa36" opacity="0.54"/>
<ellipse cx="84.2" cy="58.3" rx="0.9" ry="0.6" fill="#5aaa36" opacity="0.49"/>
<ellipse cx="51.3" cy="40.5" rx="1.1" ry="0.8" fill="#3f8a22" opacity="0.45"/>
<ellipse cx="53.0" cy="40.6" rx="1.4" ry="0.8" fill="#3f8a22" opacity="0.37"/>
<ellipse cx="142.5" cy="39.9" rx="0.9" ry="0.7" fill="#5aaa36" opacity="0.29"/>
<ellipse cx="89.7" cy="63.3" rx="1.0" ry="0.8" fill="#52a030" opacity="0.59"/>
<ellipse cx="91.4" cy="63.3" rx="1.5" ry="0.8" fill="#52a030" opacity="0.53"/>
<ellipse cx="64.0" cy="31.8" rx="1.3" ry="0.7" fill="#449026" opacity="0.29"/>
<ellipse cx="65.7" cy="31.8" rx="1.5" ry="0.7" fill="#449026" opacity="0.24"/>
<ellipse cx="55.8" cy="56.2" rx="1.4" ry="0.6" fill="#449026" opacity="0.21"/>
<ellipse cx="57.5" cy="56.3" rx="1.4" ry="0.6" fill="#449026" opacity="0.26"/>
<ellipse cx="59.2" cy="56.1" rx="1.4" ry="0.6" fill="#449026" opacity="0.23"/>
<ellipse cx="132.3" cy="80.6" rx="1.4" ry="0.7" fill="#3f8a22" opacity="0.41"/>
<ellipse cx="134.0" cy="80.7" rx="1.4" ry="0.7" fill="#3f8a22" opacity="0.49"/>
<ellipse cx="135.7" cy="80.8" rx="0.9" ry="0.7" fill="#3f8a22" opacity="0.46"/>
<ellipse cx="112.9" cy="79.0" rx="1.5" ry="0.8" fill="#5aaa36" opacity="0.50"/>
<ellipse cx="139.5" cy="41.9" rx="1.4" ry="0.6" fill="#449026" opacity="0.40"/>
<ellipse cx="141.2" cy="41.7" rx="1.6" ry="0.6" fill="#449026" opacity="0.37"/>
<ellipse cx="142.9" cy="41.7" rx="1.0" ry="0.6" fill="#449026" opacity="0.49"/>
<ellipse cx="150.1" cy="87.6" rx="1.6" ry="0.7" fill="#52a030" opacity="0.53"/>
<ellipse cx="128.5" cy="81.9" rx="1.0" ry="0.7" fill="#4a9a2a" opacity="0.62"/>
<ellipse cx="130.2" cy="81.8" rx="1.5" ry="0.7" fill="#4a9a2a" opacity="0.59"/>
<ellipse cx="98.0" cy="41.0" rx="1.6" ry="0.6" fill="#4a9a2a" opacity="0.19"/>
<ellipse cx="56.8" cy="47.3" rx="1.3" ry="0.8" fill="#449026" opacity="0.19"/>
<ellipse cx="58.5" cy="47.4" rx="1.3" ry="0.8" fill="#449026" opacity="0.25"/>
<ellipse cx="63.5" cy="83.4" rx="1.1" ry="0.8" fill="#52a030" opacity="0.58"/>
<ellipse cx="65.2" cy="83.0" rx="1.5" ry="0.8" fill="#52a030" opacity="0.42"/>
<ellipse cx="66.9" cy="83.0" rx="1.3" ry="0.8" fill="#52a030" opacity="0.43"/>
<ellipse cx="145.0" cy="34.4" rx="1.4" ry="0.8" fill="#449026" opacity="0.36"/>
<ellipse cx="146.7" cy="34.2" rx="1.6" ry="0.8" fill="#449026" opacity="0.44"/>
<ellipse cx="148.4" cy="34.4" rx="1.4" ry="0.8" fill="#449026" opacity="0.48"/>
<ellipse cx="152.9" cy="54.2" rx="1.0" ry="0.6" fill="#3f8a22" opacity="0.66"/>
<ellipse cx="154.6" cy="54.3" rx="1.1" ry="0.6" fill="#3f8a22" opacity="0.60"/>
<ellipse cx="156.3" cy="54.0" rx="1.6" ry="0.6" fill="#3f8a22" opacity="0.64"/>
<ellipse cx="99.7" cy="71.5" rx="1.1" ry="0.7" fill="#449026" opacity="0.38"/>
<ellipse cx="101.4" cy="71.7" rx="1.1" ry="0.7" fill="#449026" opacity="0.32"/>
<ellipse cx="103.1" cy="71.4" rx="1.4" ry="0.7" fill="#449026" opacity="0.32"/>
<ellipse cx="43.7" cy="62.0" rx="1.5" ry="0.7" fill="#5aaa36" opacity="0.43"/>
<ellipse cx="90.7" cy="38.7" rx="1.1" ry="0.6" fill="#52a030" opacity="0.43"/>
<ellipse cx="130.5" cy="66.6" rx="1.3" ry="0.8" fill="#4a9a2a" opacity="0.23"/>
<ellipse cx="132.2" cy="67.0" rx="1.6" ry="0.8" fill="#4a9a2a" opacity="0.30"/>
<ellipse cx="73.7" cy="88.0" rx="1.4" ry="0.8" fill="#449026" opacity="0.38"/>
<ellipse cx="75.4" cy="88.2" rx="1.2" ry="0.8" fill="#449026" opacity="0.49"/>
<ellipse cx="91.3" cy="93.7" rx="1.1" ry="0.6" fill="#449026" opacity="0.63"/>
<ellipse cx="93.0" cy="93.7" rx="1.5" ry="0.6" fill="#449026" opacity="0.57"/>
<ellipse cx="94.7" cy="93.8" rx="1.1" ry="0.6" fill="#449026" opacity="0.48"/>
<ellipse cx="112.8" cy="90.8" rx="1.1" ry="0.7" fill="#4a9a2a" opacity="0.41"/>
<ellipse cx="114.5" cy="90.9" rx="1.2" ry="0.7" fill="#4a9a2a" opacity="0.45"/>
<ellipse cx="116.2" cy="90.9" rx="1.5" ry="0.7" fill="#4a9a2a" opacity="0.48"/>
<ellipse cx="55.0" cy="89.0" rx="1.4" ry="0.7" fill="#4a9a2a" opacity="0.61"/>
<ellipse cx="56.7" cy="88.6" rx="1.5" ry="0.7" fill="#4a9a2a" opacity="0.48"/>
<ellipse cx="58.4" cy="88.7" rx="1.5" ry="0.7" fill="#4a9a2a" opacity="0.55"/>
<ellipse cx="94.3" cy="63.8" rx="1.1" ry="0.6" fill="#3f8a22" opacity="0.28"/>
<ellipse cx="96.0" cy="64.2" rx="1.5" ry="0.6" fill="#3f8a22" opacity="0.28"/>
<ellipse cx="97.7" cy="64.0" rx="1.5" ry="0.6" fill="#3f8a22" opacity="0.32"/>
<ellipse cx="147.0" cy="76.2" rx="1.6" ry="0.6" fill="#5aaa36" opacity="0.20"/>
<ellipse cx="148.7" cy="76.6" rx="0.9" ry="0.6" fill="#5aaa36" opacity="0.22"/>
<ellipse cx="150.4" cy="76.4" rx="1.3" ry="0.6" fill="#5aaa36" opacity="0.21"/>
<ellipse cx="83.6" cy="70.2" rx="1.4" ry="0.7" fill="#4a9a2a" opacity="0.45"/>
<ellipse cx="146.1" cy="48.7" rx="1.0" ry="0.6" fill="#4a9a2a" opacity="0.51"/>
<ellipse cx="147.8" cy="49.1" rx="1.6" ry="0.6" fill="#4a9a2a" opacity="0.56"/>
<ellipse cx="87.8" cy="93.6" rx="1.3" ry="0.6" fill="#52a030" opacity="0.46"/>
<ellipse cx="89.5" cy="93.9" rx="1.2" ry="0.6" fill="#52a030" opacity="0.46"/>
<ellipse cx="91.2" cy="94.1" rx="1.1" ry="0.6" fill="#52a030" opacity="0.49"/>
<ellipse cx="100.0" cy="35.7" rx="1.1" ry="0.6" fill="#5aaa36" opacity="0.27"/>
<ellipse cx="131.6" cy="74.6" rx="1.1" ry="0.6" fill="#449026" opacity="0.42"/>
<ellipse cx="133.3" cy="74.5" rx="1.2" ry="0.6" fill="#449026" opacity="0.51"/>
<ellipse cx="43.8" cy="55.3" rx="1.4" ry="0.6" fill="#4a9a2a" opacity="0.45"/>
<ellipse cx="105.3" cy="76.6" rx="1.2" ry="0.6" fill="#5aaa36" opacity="0.54"/>
<ellipse cx="107.0" cy="76.3" rx="1.5" ry="0.6" fill="#5aaa36" opacity="0.53"/>
<ellipse cx="108.7" cy="76.5" rx="1.2" ry="0.6" fill="#5aaa36" opacity="0.40"/>
<ellipse cx="54.2" cy="59.7" rx="1.2" ry="0.6" fill="#449026" opacity="0.26"/>
<ellipse cx="55.9" cy="59.8" rx="1.5" ry="0.6" fill="#449026" opacity="0.27"/>
<ellipse cx="57.6" cy="59.7" rx="1.1" ry="0.6" fill="#449026" opacity="0.23"/>
<ellipse cx="118.2" cy="79.5" rx="1.1" ry="0.6" fill="#3f8a22" opacity="0.23"/>
<ellipse cx="119.9" cy="79.6" rx="1.3" ry="0.6" fill="#3f8a22" opacity="0.20"/>
<ellipse cx="117.5" cy="54.8" rx="1.5" ry="0.6" fill="#4a9a2a" opacity="0.54"/>
<ellipse cx="119.2" cy="54.8" rx="1.3" ry="0.6" fill="#4a9a2a" opacity="0.44"/>
<ellipse cx="143.3" cy="61.7" rx="1.1" ry="0.6" fill="#52a030" opacity="0.29"/>
<ellipse cx="145.0" cy="61.4" rx="1.5" ry="0.6" fill="#52a030" opacity="0.30"/>
<ellipse cx="44.0" cy="74.5" rx="1.2" ry="0.7" fill="#5aaa36" opacity="0.51"/>
<ellipse cx="45.7" cy="74.4" rx="1.0" ry="0.7" fill="#5aaa36" opacity="0.50"/>
<ellipse cx="147.1" cy="36.6" rx="1.2" ry="0.7" fill="#449026" opacity="0.53"/>
<ellipse cx="148.8" cy="36.3" rx="1.2" ry="0.7" fill="#449026" opacity="0.66"/>
<ellipse cx="150.5" cy="36.4" rx="1.5" ry="0.7" fill="#449026" opacity="0.49"/>
<ellipse cx="59.0" cy="70.1" rx="1.6" ry="0.7" fill="#449026" opacity="0.34"/>
<ellipse cx="102.2" cy="74.1" rx="1.2" ry="0.6" fill="#3f8a22" opacity="0.26"/>
<ellipse cx="103.9" cy="74.0" rx="1.6" ry="0.6" fill="#3f8a22" opacity="0.25"/>
<ellipse cx="105.6" cy="73.7" rx="0.9" ry="0.6" fill="#3f8a22" opacity="0.28"/>
<ellipse cx="132.7" cy="89.1" rx="1.2" ry="0.7" fill="#5aaa36" opacity="0.29"/>
<ellipse cx="134.4" cy="88.8" rx="1.1" ry="0.7" fill="#5aaa36" opacity="0.23"/>
<ellipse cx="148.3" cy="69.6" rx="1.4" ry="0.8" fill="#4a9a2a" opacity="0.38"/>
<ellipse cx="52.7" cy="64.3" rx="1.4" ry="0.8" fill="#52a030" opacity="0.32"/>
<ellipse cx="54.4" cy="64.6" rx="1.3" ry="0.8" fill="#52a030" opacity="0.36"/>
<ellipse cx="56.1" cy="64.3" rx="1.2" ry="0.8" fill="#52a030" opacity="0.39"/>
<ellipse cx="154.2" cy="52.2" rx="1.5" ry="0.8" fill="#4a9a2a" opacity="0.20"/>
<ellipse cx="97.9" cy="54.8" rx="1.0" ry="0.6" fill="#4a9a2a" opacity="0.37"/>
<ellipse cx="99.6" cy="54.5" rx="1.5" ry="0.6" fill="#4a9a2a" opacity="0.36"/>
<ellipse cx="101.3" cy="54.6" rx="1.2" ry="0.6" fill="#4a9a2a" opacity="0.45"/>
<ellipse cx="100.8" cy="35.5" rx="1.2" ry="0.7" fill="#3f8a22" opacity="0.30"/>
<ellipse cx="102.5" cy="35.3" rx="1.2" ry="0.7" fill="#3f8a22" opacity="0.27"/>
<ellipse cx="49.4" cy="55.1" rx="1.5" ry="0.7" fill="#3f8a22" opacity="0.41"/>
<ellipse cx="51.1" cy="55.2" rx="1.4" ry="0.7" fill="#3f8a22" opacity="0.35"/>
<ellipse cx="159.8" cy="66.2" rx="1.5" ry="0.6" fill="#4a9a2a" opacity="0.50"/>
<ellipse cx="161.5" cy="66.2" rx="1.0" ry="0.6" fill="#4a9a2a" opacity="0.41"/>
<ellipse cx="102.2" cy="74.4" rx="1.2" ry="0.8" fill="#3f8a22" opacity="0.45"/>
<ellipse cx="103.9" cy="74.9" rx="1.6" ry="0.8" fill="#3f8a22" opacity="0.41"/>
<ellipse cx="66.5" cy="92.6" rx="1.3" ry="0.7" fill="#449026" opacity="0.65"/>
<ellipse cx="68.2" cy="92.7" rx="1.1" ry="0.7" fill="#449026" opacity="0.58"/>
<ellipse cx="69.9" cy="92.2" rx="0.9" ry="0.7" fill="#449026" opacity="0.53"/>
<ellipse cx="136.0" cy="72.3" rx="0.9" ry="0.8" fill="#3f8a22" opacity="0.39"/>
<ellipse cx="80.7" cy="73.3" rx="1.2" ry="0.8" fill="#5aaa36" opacity="0.66"/>
<ellipse cx="86.1" cy="49.4" rx="1.2" ry="0.6" fill="#449026" opacity="0.51"/>
<ellipse cx="87.8" cy="49.1" rx="1.4" ry="0.6" fill="#449026" opacity="0.61"/>
<ellipse cx="89.5" cy="49.3" rx="1.4" ry="0.6" fill="#449026" opacity="0.60"/>
<ellipse cx="68.2" cy="75.8" rx="1.3" ry="0.6" fill="#449026" opacity="0.53"/>
<ellipse cx="51.2" cy="71.6" rx="1.5" ry="0.7" fill="#3f8a22" opacity="0.19"/>
<ellipse cx="52.9" cy="71.5" rx="1.0" ry="0.7" fill="#3f8a22" opacity="0.25"/>
<ellipse cx="70.2" cy="68.0" rx="1.2" ry="0.8" fill="#3f8a22" opacity="0.20"/>
<ellipse cx="159.9" cy="92.3" rx="1.5" ry="0.7" fill="#3f8a22" opacity="0.50"/>
<ellipse cx="59.7" cy="43.5" rx="1.6" ry="0.7" fill="#3f8a22" opacity="0.26"/>
<ellipse cx="125.1" cy="32.1" rx="1.2" ry="0.8" fill="#5aaa36" opacity="0.52"/>
<ellipse cx="126.8" cy="32.1" rx="1.1" ry="0.8" fill="#5aaa36" opacity="0.42"/>
<ellipse cx="74.8" cy="50.6" rx="1.6" ry="0.6" fill="#3f8a22" opacity="0.42"/>
<ellipse cx="72.1" cy="75.8" rx="1.5" ry="0.7" fill="#52a030" opacity="0.62"/>
<ellipse cx="62.3" cy="86.8" rx="1.1" ry="0.6" fill="#449026" opacity="0.20"/>
<ellipse cx="64.0" cy="86.5" rx="1.4" ry="0.6" fill="#449026" opacity="0.21"/>
<ellipse cx="65.7" cy="86.6" rx="1.6" ry="0.6" fill="#449026" opacity="0.22"/>
<ellipse cx="84.8" cy="62.1" rx="1.3" ry="0.6" fill="#5aaa36" opacity="0.40"/>
<ellipse cx="111.3" cy="58.2" rx="1.4" ry="0.7" fill="#3f8a22" opacity="0.22"/>
<ellipse cx="113.0" cy="58.2" rx="1.1" ry="0.7" fill="#3f8a22" opacity="0.23"/>
<ellipse cx="121.3" cy="74.1" rx="1.1" ry="0.8" fill="#52a030" opacity="0.37"/>
<ellipse cx="117.8" cy="38.2" rx="1.2" ry="0.8" fill="#52a030" opacity="0.40"/>
<ellipse cx="85.4" cy="49.5" rx="1.4" ry="0.8" fill="#3f8a22" opacity="0.41"/>
<ellipse cx="112.3" cy="87.6" rx="0.9" ry="0.6" fill="#52a030" opacity="0.27"/>
<ellipse cx="114.0" cy="87.6" rx="1.3" ry="0.6" fill="#52a030" opacity="0.24"/>
<ellipse cx="115.7" cy="87.4" rx="1.4" ry="0.6" fill="#52a030" opacity="0.29"/>
<ellipse cx="105.6" cy="34.9" rx="1.1" ry="0.6" fill="#52a030" opacity="0.24"/>
<ellipse cx="59.6" cy="53.5" rx="1.4" ry="0.7" fill="#52a030" opacity="0.23"/>
<ellipse cx="61.3" cy="53.7" rx="1.4" ry="0.7" fill="#52a030" opacity="0.19"/>
<ellipse cx="63.0" cy="53.6" rx="1.5" ry="0.7" fill="#52a030" opacity="0.21"/>
<ellipse cx="111.7" cy="74.3" rx="0.9" ry="0.6" fill="#3f8a22" opacity="0.30"/>
<ellipse cx="68.3" cy="49.0" rx="1.2" ry="0.6" fill="#52a030" opacity="0.35"/>
<ellipse cx="70.0" cy="49.4" rx="1.6" ry="0.6" fill="#52a030" opacity="0.43"/>
<ellipse cx="71.7" cy="49.2" rx="1.0" ry="0.6" fill="#52a030" opacity="0.47"/>
<ellipse cx="159.3" cy="71.6" rx="1.1" ry="0.7" fill="#5aaa36" opacity="0.31"/>
<ellipse cx="161.0" cy="71.8" rx="1.2" ry="0.7" fill="#5aaa36" opacity="0.37"/>
<ellipse cx="162.7" cy="71.6" rx="1.4" ry="0.7" fill="#5aaa36" opacity="0.35"/>
<ellipse cx="130.9" cy="44.9" rx="1.6" ry="0.8" fill="#4a9a2a" opacity="0.33"/>
<ellipse cx="132.6" cy="44.6" rx="1.2" ry="0.8" fill="#4a9a2a" opacity="0.30"/>
<ellipse cx="134.3" cy="44.6" rx="1.3" ry="0.8" fill="#4a9a2a" opacity="0.36"/>
<ellipse cx="68.2" cy="62.9" rx="1.0" ry="0.6" fill="#5aaa36" opacity="0.44"/>
<ellipse cx="69.9" cy="62.9" rx="1.4" ry="0.6" fill="#5aaa36" opacity="0.44"/>
<ellipse cx="85.8" cy="44.3" rx="1.1" ry="0.7" fill="#5aaa36" opacity="0.44"/>
<ellipse cx="87.5" cy="44.1" rx="1.6" ry="0.7" fill="#5aaa36" opacity="0.55"/>
<ellipse cx="89.2" cy="44.1" rx="1.5" ry="0.7" fill="#5aaa36" opacity="0.58"/>
<ellipse cx="141.2" cy="46.7" rx="1.2" ry="0.8" fill="#4a9a2a" opacity="0.29"/>
<ellipse cx="98.1" cy="76.7" rx="1.1" ry="0.6" fill="#4a9a2a" opacity="0.32"/>
<ellipse cx="99.8" cy="76.9" rx="1.1" ry="0.6" fill="#4a9a2a" opacity="0.31"/>
<ellipse cx="108.1" cy="72.6" rx="1.5" ry="0.7" fill="#3f8a22" opacity="0.46"/>
<ellipse cx="118.8" cy="50.4" rx="1.6" ry="0.6" fill="#449026" opacity="0.33"/>
<ellipse cx="120.5" cy="50.5" rx="1.6" ry="0.6" fill="#449026" opacity="0.32"/>
<ellipse cx="122.2" cy="50.3" rx="1.5" ry="0.6" fill="#449026" opacity="0.34"/>
<ellipse cx="88.2" cy="52.6" rx="1.3" ry="0.6" fill="#4a9a2a" opacity="0.29"/>
<ellipse cx="89.9" cy="52.7" rx="1.5" ry="0.6" fill="#4a9a2a" opacity="0.25"/>
<ellipse cx="115.5" cy="85.1" rx="1.2" ry="0.6" fill="#3f8a22" opacity="0.49"/>
<ellipse cx="117.2" cy="85.2" rx="1.3" ry="0.6" fill="#3f8a22" opacity="0.54"/>
<ellipse cx="118.9" cy="84.9" rx="1.3" ry="0.6" fill="#3f8a22" opacity="0.45"/>
<ellipse cx="98.5" cy="46.8" rx="1.4" ry="0.7" fill="#3f8a22" opacity="0.39"/>
<ellipse cx="100.2" cy="47.3" rx="1.0" ry="0.7" fill="#3f8a22" opacity="0.39"/>
<ellipse cx="101.9" cy="47.3" rx="1.5" ry="0.7" fill="#3f8a22" opacity="0.30"/>
<ellipse cx="85.6" cy="68.3" rx="1.0" ry="0.7" fill="#3f8a22" opacity="0.59"/>
<ellipse cx="67.8" cy="80.9" rx="1.2" ry="0.8" fill="#3f8a22" opacity="0.41"/>
<ellipse cx="69.5" cy="80.9" rx="1.3" ry="0.8" fill="#3f8a22" opacity="0.34"/>
<ellipse cx="122.6" cy="83.0" rx="1.5" ry="0.6" fill="#449026" opacity="0.22"/>
<ellipse cx="124.3" cy="83.0" rx="1.2" ry="0.6" fill="#449026" opacity="0.28"/>
<ellipse cx="126.0" cy="83.2" rx="1.3" ry="0.6" fill="#449026" opacity="0.25"/>
<ellipse cx="130.6" cy="65.4" rx="1.4" ry="0.6" fill="#5aaa36" opacity="0.43"/>
<ellipse cx="132.3" cy="65.6" rx="1.1" ry="0.6" fill="#5aaa36" opacity="0.36"/>
<ellipse cx="61.6" cy="55.9" rx="1.1" ry="0.8" fill="#3f8a22" opacity="0.33"/>
<ellipse cx="134.0" cy="90.0" rx="1.4" ry="0.8" fill="#52a030" opacity="0.50"/>
<ellipse cx="135.7" cy="89.7" rx="1.5" ry="0.8" fill="#52a030" opacity="0.50"/>
<ellipse cx="137.4" cy="90.1" rx="1.4" ry="0.8" fill="#52a030" opacity="0.50"/>
<ellipse cx="58.8" cy="47.3" rx="1.1" ry="0.7" fill="#5aaa36" opacity="0.37"/>
<ellipse cx="60.5" cy="47.0" rx="1.2" ry="0.7" fill="#5aaa36" opacity="0.30"/>
<ellipse cx="140.4" cy="62.8" rx="1.4" ry="0.6" fill="#3f8a22" opacity="0.50"/>
<ellipse cx="51.4" cy="73.3" rx="1.3" ry="0.8" fill="#52a030" opacity="0.20"/>
<ellipse cx="53.1" cy="73.0" rx="1.2" ry="0.8" fill="#52a030" opacity="0.16"/>
<ellipse cx="54.8" cy="73.3" rx="1.6" ry="0.8" fill="#52a030" opacity="0.15"/>
<ellipse cx="60.7" cy="38.3" rx="1.0" ry="0.8" fill="#52a030" opacity="0.40"/>
<ellipse cx="71.0" cy="79.4" rx="1.5" ry="0.6" fill="#52a030" opacity="0.46"/>
<ellipse cx="63.4" cy="82.2" rx="1.5" ry="0.7" fill="#4a9a2a" opacity="0.37"/>
<ellipse cx="65.1" cy="82.6" rx="1.6" ry="0.7" fill="#4a9a2a" opacity="0.31"/>
<ellipse cx="55.2" cy="79.3" rx="1.3" ry="0.7" fill="#3f8a22" opacity="0.20"/>
<ellipse cx="56.9" cy="79.0" rx="1.2" ry="0.7" fill="#3f8a22" opacity="0.18"/>
<ellipse cx="145.0" cy="85.0" rx="1.5" ry="0.7" fill="#52a030" opacity="0.42"/>
<ellipse cx="70.0" cy="46.7" rx="1.1" ry="0.6" fill="#449026" opacity="0.19"/>
<ellipse cx="97.1" cy="72.3" rx="1.4" ry="0.8" fill="#5aaa36" opacity="0.38"/>
<ellipse cx="131.8" cy="38.3" rx="0.9" ry="0.6" fill="#5aaa36" opacity="0.47"/>
<ellipse cx="133.5" cy="38.3" rx="1.6" ry="0.6" fill="#5aaa36" opacity="0.59"/>
<ellipse cx="66.2" cy="93.0" rx="1.4" ry="0.8" fill="#449026" opacity="0.60"/>
<ellipse cx="79.0" cy="81.5" rx="1.4" ry="0.8" fill="#3f8a22" opacity="0.31"/>
<ellipse cx="141.3" cy="86.9" rx="1.0" ry="0.6" fill="#52a030" opacity="0.31"/>
<ellipse cx="112.0" cy="93.4" rx="1.4" ry="0.7" fill="#52a030" opacity="0.34"/>
<ellipse cx="113.7" cy="93.4" rx="1.5" ry="0.7" fill="#52a030" opacity="0.30"/>
<ellipse cx="115.4" cy="93.2" rx="1.5" ry="0.7" fill="#52a030" opacity="0.42"/>
<ellipse cx="50.3" cy="84.1" rx="1.2" ry="0.8" fill="#449026" opacity="0.22"/>
<ellipse cx="52.0" cy="83.9" rx="1.5" ry="0.8" fill="#449026" opacity="0.19"/>
<ellipse cx="90.2" cy="43.5" rx="1.1" ry="0.7" fill="#3f8a22" opacity="0.37"/>
<ellipse cx="91.9" cy="43.6" rx="1.1" ry="0.7" fill="#3f8a22" opacity="0.44"/>
<ellipse cx="64.9" cy="82.9" rx="1.2" ry="0.7" fill="#449026" opacity="0.39"/>
<ellipse cx="148.3" cy="91.4" rx="1.2" ry="0.6" fill="#3f8a22" opacity="0.45"/>
<ellipse cx="150.0" cy="91.0" rx="1.5" ry="0.6" fill="#3f8a22" opacity="0.42"/>
<ellipse cx="151.7" cy="91.2" rx="0.9" ry="0.6" fill="#3f8a22" opacity="0.54"/>
<ellipse cx="46.8" cy="65.2" rx="1.4" ry="0.7" fill="#3f8a22" opacity="0.28"/>
<ellipse cx="48.5" cy="65.6" rx="1.2" ry="0.7" fill="#3f8a22" opacity="0.20"/>
<ellipse cx="50.2" cy="65.5" rx="1.2" ry="0.7" fill="#3f8a22" opacity="0.21"/>
<ellipse cx="97.2" cy="69.4" rx="0.9" ry="0.7" fill="#5aaa36" opacity="0.68"/>
<ellipse cx="67.4" cy="68.7" rx="1.0" ry="0.8" fill="#5aaa36" opacity="0.33"/>
<ellipse cx="117.9" cy="74.9" rx="1.2" ry="0.8" fill="#449026" opacity="0.46"/>
<ellipse cx="119.6" cy="74.9" rx="1.6" ry="0.8" fill="#449026" opacity="0.46"/>
<ellipse cx="136.6" cy="75.2" rx="0.9" ry="0.7" fill="#449026" opacity="0.35"/>
<ellipse cx="138.3" cy="75.2" rx="1.2" ry="0.7" fill="#449026" opacity="0.40"/>
<ellipse cx="140.0" cy="75.4" rx="1.4" ry="0.7" fill="#449026" opacity="0.31"/>
<ellipse cx="158.3" cy="52.2" rx="1.2" ry="0.6" fill="#52a030" opacity="0.38"/>
<ellipse cx="160.0" cy="52.4" rx="1.3" ry="0.6" fill="#52a030" opacity="0.41"/>
<ellipse cx="52.9" cy="47.7" rx="1.3" ry="0.6" fill="#5aaa36" opacity="0.46"/>
<ellipse cx="54.6" cy="47.6" rx="1.2" ry="0.6" fill="#5aaa36" opacity="0.59"/>
<ellipse cx="80.9" cy="60.5" rx="1.2" ry="0.6" fill="#5aaa36" opacity="0.45"/>
<ellipse cx="82.6" cy="60.6" rx="1.4" ry="0.6" fill="#5aaa36" opacity="0.58"/>
<ellipse cx="84.3" cy="60.5" rx="1.2" ry="0.6" fill="#5aaa36" opacity="0.46"/>
<ellipse cx="46.6" cy="67.3" rx="1.2" ry="0.7" fill="#449026" opacity="0.29"/>
<ellipse cx="48.3" cy="67.5" rx="1.1" ry="0.7" fill="#449026" opacity="0.23"/>
<ellipse cx="77.1" cy="93.4" rx="1.6" ry="0.6" fill="#52a030" opacity="0.50"/>
<ellipse cx="78.8" cy="93.5" rx="1.2" ry="0.6" fill="#52a030" opacity="0.49"/>
<ellipse cx="100.8" cy="89.0" rx="1.0" ry="0.6" fill="#5aaa36" opacity="0.50"/>
<ellipse cx="83.6" cy="72.0" rx="1.5" ry="0.7" fill="#4a9a2a" opacity="0.43"/>
<ellipse cx="98.2" cy="58.1" rx="1.4" ry="0.6" fill="#4a9a2a" opacity="0.34"/>
<ellipse cx="159.5" cy="40.1" rx="1.2" ry="0.7" fill="#449026" opacity="0.39"/>
<ellipse cx="161.2" cy="40.5" rx="1.4" ry="0.7" fill="#449026" opacity="0.33"/>
<ellipse cx="110.1" cy="82.4" rx="1.5" ry="0.6" fill="#3f8a22" opacity="0.56"/>
<ellipse cx="111.8" cy="82.5" rx="0.9" ry="0.6" fill="#3f8a22" opacity="0.42"/>
<ellipse cx="140.1" cy="36.5" rx="1.2" ry="0.7" fill="#52a030" opacity="0.45"/>
<ellipse cx="141.8" cy="36.5" rx="1.5" ry="0.7" fill="#52a030" opacity="0.44"/>
<ellipse cx="94.3" cy="58.9" rx="1.5" ry="0.7" fill="#52a030" opacity="0.24"/>
<ellipse cx="96.0" cy="59.2" rx="1.0" ry="0.7" fill="#52a030" opacity="0.19"/>
<ellipse cx="97.7" cy="58.8" rx="1.4" ry="0.7" fill="#52a030" opacity="0.24"/>
<ellipse cx="44.0" cy="51.6" rx="1.3" ry="0.7" fill="#5aaa36" opacity="0.38"/>
<ellipse cx="50.1" cy="62.8" rx="1.3" ry="0.6" fill="#449026" opacity="0.20"/>
<ellipse cx="51.8" cy="62.8" rx="1.0" ry="0.6" fill="#449026" opacity="0.26"/>
<ellipse cx="53.5" cy="62.7" rx="1.0" ry="0.6" fill="#449026" opacity="0.26"/>
<ellipse cx="100.5" cy="91.9" rx="1.2" ry="0.6" fill="#5aaa36" opacity="0.42"/>
<ellipse cx="102.2" cy="92.1" rx="1.5" ry="0.6" fill="#5aaa36" opacity="0.51"/>
<ellipse cx="103.9" cy="92.2" rx="1.4" ry="0.6" fill="#5aaa36" opacity="0.38"/>
<ellipse cx="103.3" cy="83.0" rx="1.2" ry="0.8" fill="#4a9a2a" opacity="0.36"/>
<ellipse cx="72.8" cy="39.1" rx="1.2" ry="0.7" fill="#3f8a22" opacity="0.46"/>
<ellipse cx="74.5" cy="38.7" rx="1.2" ry="0.7" fill="#3f8a22" opacity="0.40"/>
<ellipse cx="100.3" cy="51.4" rx="1.2" ry="0.6" fill="#3f8a22" opacity="0.31"/>
<ellipse cx="102.0" cy="51.4" rx="1.4" ry="0.6" fill="#3f8a22" opacity="0.33"/>
<ellipse cx="103.7" cy="51.8" rx="1.4" ry="0.6" fill="#3f8a22" opacity="0.37"/>
<ellipse cx="65.3" cy="33.9" rx="1.5" ry="0.7" fill="#52a030" opacity="0.40"/>
<ellipse cx="67.0" cy="34.0" rx="1.0" ry="0.7" fill="#52a030" opacity="0.34"/>
<ellipse cx="153.7" cy="56.1" rx="1.0" ry="0.8" fill="#52a030" opacity="0.49"/>
<ellipse cx="155.4" cy="56.0" rx="1.0" ry="0.8" fill="#52a030" opacity="0.57"/>
<ellipse cx="113.8" cy="45.7" rx="1.0" ry="0.7" fill="#52a030" opacity="0.42"/>
<ellipse cx="60.8" cy="53.0" rx="0.9" ry="0.7" fill="#4a9a2a" opacity="0.26"/>
<ellipse cx="143.4" cy="49.0" rx="1.0" ry="0.6" fill="#3f8a22" opacity="0.41"/>
<ellipse cx="145.1" cy="49.2" rx="1.0" ry="0.6" fill="#3f8a22" opacity="0.46"/>
<ellipse cx="146.8" cy="49.2" rx="1.2" ry="0.6" fill="#3f8a22" opacity="0.52"/>
<ellipse cx="110.9" cy="91.9" rx="1.6" ry="0.6" fill="#52a030" opacity="0.37"/>
<ellipse cx="56.5" cy="50.7" rx="1.6" ry="0.6" fill="#449026" opacity="0.44"/>
<ellipse cx="58.2" cy="50.4" rx="0.9" ry="0.6" fill="#449026" opacity="0.37"/>
<ellipse cx="74.0" cy="33.2" rx="1.0" ry="0.7" fill="#52a030" opacity="0.60"/>
<ellipse cx="75.7" cy="33.3" rx="1.0" ry="0.7" fill="#52a030" opacity="0.53"/>
<ellipse cx="150.1" cy="55.2" rx="1.1" ry="0.6" fill="#52a030" opacity="0.54"/>
<ellipse cx="52.9" cy="68.3" rx="1.5" ry="0.6" fill="#4a9a2a" opacity="0.44"/>
<ellipse cx="54.6" cy="68.3" rx="1.0" ry="0.6" fill="#4a9a2a" opacity="0.45"/>
<ellipse cx="56.3" cy="68.1" rx="1.5" ry="0.6" fill="#4a9a2a" opacity="0.39"/>
<ellipse cx="109.9" cy="89.0" rx="1.5" ry="0.8" fill="#52a030" opacity="0.68"/>
<ellipse cx="111.6" cy="89.2" rx="1.2" ry="0.8" fill="#52a030" opacity="0.68"/>
<ellipse cx="113.3" cy="89.3" rx="1.5" ry="0.8" fill="#52a030" opacity="0.69"/>
<ellipse cx="116.6" cy="51.5" rx="1.1" ry="0.7" fill="#52a030" opacity="0.16"/>
<ellipse cx="118.3" cy="51.7" rx="1.5" ry="0.7" fill="#52a030" opacity="0.18"/>
<ellipse cx="120.0" cy="51.8" rx="0.9" ry="0.7" fill="#52a030" opacity="0.16"/>
<ellipse cx="101.6" cy="78.4" rx="1.6" ry="0.6" fill="#449026" opacity="0.26"/>
<ellipse cx="131.9" cy="84.7" rx="1.2" ry="0.6" fill="#4a9a2a" opacity="0.37"/>
<ellipse cx="133.6" cy="84.8" rx="1.3" ry="0.6" fill="#4a9a2a" opacity="0.40"/>
<ellipse cx="135.3" cy="84.6" rx="1.4" ry="0.6" fill="#4a9a2a" opacity="0.45"/>
<ellipse cx="104.5" cy="78.7" rx="1.3" ry="0.6" fill="#5aaa36" opacity="0.33"/>
<ellipse cx="106.2" cy="78.6" rx="1.3" ry="0.6" fill="#5aaa36" opacity="0.38"/>
<ellipse cx="107.9" cy="78.8" rx="1.1" ry="0.6" fill="#5aaa36" opacity="0.36"/>
<ellipse cx="89.3" cy="41.8" rx="0.9" ry="0.7" fill="#5aaa36" opacity="0.25"/>
<ellipse cx="91.0" cy="42.3" rx="1.0" ry="0.7" fill="#5aaa36" opacity="0.25"/>
<ellipse cx="114.7" cy="72.7" rx="1.2" ry="0.6" fill="#449026" opacity="0.50"/>
<ellipse cx="116.4" cy="72.9" rx="1.2" ry="0.6" fill="#449026" opacity="0.40"/>
<ellipse cx="65.4" cy="40.5" rx="1.6" ry="0.7" fill="#3f8a22" opacity="0.60"/>
<ellipse cx="127.1" cy="53.2" rx="1.5" ry="0.6" fill="#4a9a2a" opacity="0.30"/>
<ellipse cx="128.8" cy="53.0" rx="1.6" ry="0.6" fill="#4a9a2a" opacity="0.32"/>
<ellipse cx="154.7" cy="55.2" rx="1.6" ry="0.6" fill="#5aaa36" opacity="0.41"/>
<ellipse cx="105.0" cy="57.7" rx="1.4" ry="0.7" fill="#449026" opacity="0.51"/>
<ellipse cx="106.7" cy="58.0" rx="1.1" ry="0.7" fill="#449026" opacity="0.42"/>
<ellipse cx="86.0" cy="84.2" rx="1.4" ry="0.6" fill="#5aaa36" opacity="0.31"/>
<ellipse cx="87.7" cy="84.4" rx="1.4" ry="0.6" fill="#5aaa36" opacity="0.37"/>
<ellipse cx="89.4" cy="84.2" rx="1.2" ry="0.6" fill="#5aaa36" opacity="0.32"/>
<ellipse cx="49.7" cy="66.1" rx="1.0" ry="0.8" fill="#4a9a2a" opacity="0.34"/>
<ellipse cx="51.4" cy="66.4" rx="1.4" ry="0.8" fill="#4a9a2a" opacity="0.33"/>
<ellipse cx="53.1" cy="66.4" rx="1.3" ry="0.8" fill="#4a9a2a" opacity="0.41"/>
<ellipse cx="139.7" cy="57.4" rx="1.3" ry="0.8" fill="#5aaa36" opacity="0.19"/>
<ellipse cx="141.4" cy="57.1" rx="1.0" ry="0.8" fill="#5aaa36" opacity="0.22"/>
<ellipse cx="66.0" cy="33.5" rx="1.0" ry="0.6" fill="#5aaa36" opacity="0.20"/>
<ellipse cx="44.8" cy="47.1" rx="1.5" ry="0.7" fill="#52a030" opacity="0.46"/>
<ellipse cx="46.5" cy="47.1" rx="1.6" ry="0.7" fill="#52a030" opacity="0.48"/>
<ellipse cx="48.2" cy="47.2" rx="0.9" ry="0.7" fill="#52a030" opacity="0.53"/>
<ellipse cx="58.9" cy="73.3" rx="1.0" ry="0.6" fill="#3f8a22" opacity="0.42"/>
<ellipse cx="60.6" cy="73.5" rx="1.2" ry="0.6" fill="#3f8a22" opacity="0.49"/>
<ellipse cx="140.8" cy="31.9" rx="1.2" ry="0.7" fill="#3f8a22" opacity="0.25"/>
<ellipse cx="112.0" cy="84.1" rx="0.9" ry="0.7" fill="#52a030" opacity="0.38"/>
<ellipse cx="113.7" cy="83.9" rx="1.0" ry="0.7" fill="#52a030" opacity="0.33"/>
<ellipse cx="134.9" cy="62.5" rx="1.1" ry="0.7" fill="#5aaa36" opacity="0.23"/>
<ellipse cx="136.6" cy="62.6" rx="1.6" ry="0.7" fill="#5aaa36" opacity="0.25"/>
<ellipse cx="89.7" cy="79.5" rx="1.1" ry="0.7" fill="#52a030" opacity="0.24"/>
<ellipse cx="108.3" cy="91.0" rx="1.5" ry="0.6" fill="#4a9a2a" opacity="0.54"/>
<ellipse cx="110.0" cy="90.8" rx="1.3" ry="0.6" fill="#4a9a2a" opacity="0.56"/>
<ellipse cx="111.8" cy="76.0" rx="1.3" ry="0.6" fill="#449026" opacity="0.31"/>
<ellipse cx="43.7" cy="32.6" rx="1.1" ry="0.8" fill="#4a9a2a" opacity="0.35"/>
<ellipse cx="91.9" cy="55.1" rx="1.1" ry="0.6" fill="#3f8a22" opacity="0.54"/>
<ellipse cx="64.9" cy="68.4" rx="1.4" ry="0.7" fill="#4a9a2a" opacity="0.49"/>
<ellipse cx="159.7" cy="49.3" rx="1.1" ry="0.8" fill="#4a9a2a" opacity="0.49"/>
<ellipse cx="137.4" cy="48.1" rx="1.4" ry="0.8" fill="#5aaa36" opacity="0.59"/>
<ellipse cx="139.1" cy="48.4" rx="1.5" ry="0.8" fill="#5aaa36" opacity="0.58"/>
<ellipse cx="140.8" cy="48.3" rx="1.2" ry="0.8" fill="#5aaa36" opacity="0.58"/>
<ellipse cx="48.9" cy="45.4" rx="1.3" ry="0.8" fill="#3f8a22" opacity="0.34"/>
<ellipse cx="50.6" cy="45.3" rx="1.0" ry="0.8" fill="#3f8a22" opacity="0.41"/>
<ellipse cx="68.1" cy="64.5" rx="1.2" ry="0.7" fill="#52a030" opacity="0.51"/>
<ellipse cx="69.8" cy="64.4" rx="1.6" ry="0.7" fill="#52a030" opacity="0.53"/>
<ellipse cx="71.5" cy="64.2" rx="1.6" ry="0.7" fill="#52a030" opacity="0.47"/>
<ellipse cx="142.4" cy="73.0" rx="1.4" ry="0.6" fill="#4a9a2a" opacity="0.20"/>
<ellipse cx="73.3" cy="33.4" rx="1.1" ry="0.6" fill="#5aaa36" opacity="0.49"/>
<ellipse cx="75.0" cy="33.7" rx="1.1" ry="0.6" fill="#5aaa36" opacity="0.64"/>
<ellipse cx="106.4" cy="73.6" rx="1.2" ry="0.8" fill="#52a030" opacity="0.50"/>
<ellipse cx="108.1" cy="73.8" rx="1.2" ry="0.8" fill="#52a030" opacity="0.47"/>
<ellipse cx="134.1" cy="81.5" rx="1.5" ry="0.8" fill="#4a9a2a" opacity="0.25"/>
<ellipse cx="45.0" cy="51.2" rx="1.3" ry="0.6" fill="#3f8a22" opacity="0.27"/>
<ellipse cx="46.7" cy="51.0" rx="1.2" ry="0.6" fill="#3f8a22" opacity="0.23"/>
<ellipse cx="151.6" cy="88.9" rx="1.5" ry="0.8" fill="#52a030" opacity="0.53"/>
<ellipse cx="153.3" cy="88.8" rx="1.4" ry="0.8" fill="#52a030" opacity="0.51"/>
<ellipse cx="155.0" cy="88.7" rx="0.9" ry="0.8" fill="#52a030" opacity="0.49"/>
<ellipse cx="109.3" cy="39.9" rx="1.1" ry="0.7" fill="#4a9a2a" opacity="0.58"/>
<ellipse cx="107.4" cy="62.9" rx="1.5" ry="0.6" fill="#5aaa36" opacity="0.47"/>
<ellipse cx="119.0" cy="54.8" rx="1.6" ry="0.8" fill="#4a9a2a" opacity="0.32"/>
<ellipse cx="79.4" cy="82.3" rx="1.2" ry="0.6" fill="#52a030" opacity="0.27"/>
<ellipse cx="133.1" cy="73.4" rx="1.4" ry="0.6" fill="#5aaa36" opacity="0.22"/>
<ellipse cx="134.8" cy="73.5" rx="1.6" ry="0.6" fill="#5aaa36" opacity="0.27"/>
<ellipse cx="68.9" cy="65.4" rx="1.3" ry="0.8" fill="#3f8a22" opacity="0.54"/>
<ellipse cx="70.6" cy="65.6" rx="1.6" ry="0.8" fill="#3f8a22" opacity="0.57"/>
<ellipse cx="100.3" cy="39.8" rx="1.5" ry="0.7" fill="#4a9a2a" opacity="0.32"/>
<ellipse cx="102.0" cy="39.6" rx="1.4" ry="0.7" fill="#4a9a2a" opacity="0.29"/>
<ellipse cx="103.7" cy="39.7" rx="1.1" ry="0.7" fill="#4a9a2a" opacity="0.25"/>
<ellipse cx="143.7" cy="91.8" rx="1.5" ry="0.7" fill="#4a9a2a" opacity="0.24"/>
<ellipse cx="145.4" cy="91.5" rx="0.9" ry="0.7" fill="#4a9a2a" opacity="0.26"/>
<ellipse cx="99.1" cy="59.9" rx="1.1" ry="0.6" fill="#5aaa36" opacity="0.24"/>
<ellipse cx="93.5" cy="72.8" rx="1.2" ry="0.6" fill="#449026" opacity="0.56"/>
<ellipse cx="95.2" cy="72.9" rx="1.5" ry="0.6" fill="#449026" opacity="0.48"/>
<ellipse cx="78.1" cy="47.1" rx="1.2" ry="0.6" fill="#52a030" opacity="0.25"/>
<ellipse cx="48.4" cy="74.8" rx="1.0" ry="0.7" fill="#449026" opacity="0.33"/>
<ellipse cx="50.1" cy="74.7" rx="1.1" ry="0.7" fill="#449026" opacity="0.37"/>
<ellipse cx="62.5" cy="58.3" rx="1.6" ry="0.7" fill="#449026" opacity="0.61"/>
<ellipse cx="94.2" cy="71.2" rx="1.3" ry="0.7" fill="#3f8a22" opacity="0.34"/>
<ellipse cx="95.9" cy="71.3" rx="1.3" ry="0.7" fill="#3f8a22" opacity="0.45"/>
<ellipse cx="97.6" cy="71.4" rx="1.6" ry="0.7" fill="#3f8a22" opacity="0.47"/>
<ellipse cx="73.5" cy="53.4" rx="1.2" ry="0.7" fill="#449026" opacity="0.39"/>
<ellipse cx="73.0" cy="91.6" rx="0.9" ry="0.7" fill="#3f8a22" opacity="0.43"/>
<ellipse cx="74.7" cy="91.4" rx="1.6" ry="0.7" fill="#3f8a22" opacity="0.37"/>
<ellipse cx="111.9" cy="93.1" rx="0.9" ry="0.7" fill="#3f8a22" opacity="0.43"/>
<ellipse cx="113.6" cy="93.1" rx="1.0" ry="0.7" fill="#3f8a22" opacity="0.40"/>
<ellipse cx="115.3" cy="92.9" rx="1.3" ry="0.7" fill="#3f8a22" opacity="0.48"/>
<ellipse cx="66.8" cy="90.2" rx="1.0" ry="0.6" fill="#4a9a2a" opacity="0.62"/>
<ellipse cx="65.4" cy="83.8" rx="1.0" ry="0.8" fill="#5aaa36" opacity="0.21"/>
<ellipse cx="113.5" cy="85.1" rx="1.2" ry="0.7" fill="#3f8a22" opacity="0.50"/>
<ellipse cx="115.2" cy="84.9" rx="1.2" ry="0.7" fill="#3f8a22" opacity="0.47"/>
<ellipse cx="83.6" cy="49.9" rx="1.2" ry="0.7" fill="#5aaa36" opacity="0.35"/>
<ellipse cx="82.0" cy="50.9" rx="1.4" ry="0.8" fill="#449026" opacity="0.35"/>
<ellipse cx="83.7" cy="51.2" rx="1.6" ry="0.8" fill="#449026" opacity="0.28"/>
<ellipse cx="79.5" cy="52.2" rx="1.2" ry="0.8" fill="#4a9a2a" opacity="0.24"/>
<ellipse cx="134.9" cy="42.8" rx="1.4" ry="0.6" fill="#4a9a2a" opacity="0.45"/>
<ellipse cx="136.6" cy="42.6" rx="1.4" ry="0.6" fill="#4a9a2a" opacity="0.41"/>
<ellipse cx="138.3" cy="43.0" rx="1.6" ry="0.6" fill="#4a9a2a" opacity="0.49"/>
<ellipse cx="152.2" cy="57.7" rx="1.3" ry="0.7" fill="#5aaa36" opacity="0.38"/>
<ellipse cx="153.9" cy="57.8" rx="1.5" ry="0.7" fill="#5aaa36" opacity="0.34"/>
<ellipse cx="57.0" cy="92.8" rx="1.5" ry="0.7" fill="#5aaa36" opacity="0.51"/>
<ellipse cx="58.7" cy="93.1" rx="1.2" ry="0.7" fill="#5aaa36" opacity="0.56"/>
<ellipse cx="61.4" cy="91.9" rx="1.6" ry="0.8" fill="#3f8a22" opacity="0.35"/>
<ellipse cx="63.1" cy="91.7" rx="1.4" ry="0.8" fill="#3f8a22" opacity="0.38"/>
<ellipse cx="63.7" cy="69.4" rx="1.3" ry="0.8" fill="#449026" opacity="0.22"/>
<ellipse cx="65.4" cy="69.5" rx="1.3" ry="0.8" fill="#449026" opacity="0.19"/>
<ellipse cx="60.7" cy="62.4" rx="0.9" ry="0.7" fill="#4a9a2a" opacity="0.46"/>
<ellipse cx="150.9" cy="71.7" rx="1.1" ry="0.6" fill="#5aaa36" opacity="0.31"/>
<ellipse cx="152.6" cy="71.9" rx="1.0" ry="0.6" fill="#5aaa36" opacity="0.37"/>
<ellipse cx="154.3" cy="72.0" rx="1.0" ry="0.6" fill="#5aaa36" opacity="0.42"/>
<ellipse cx="100.2" cy="53.0" rx="1.3" ry="0.8" fill="#5aaa36" opacity="0.49"/>
<ellipse cx="101.9" cy="53.0" rx="1.0" ry="0.8" fill="#5aaa36" opacity="0.48"/>
<ellipse cx="103.6" cy="53.2" rx="1.3" ry="0.8" fill="#5aaa36" opacity="0.43"/>
<ellipse cx="110.6" cy="67.8" rx="1.0" ry="0.7" fill="#52a030" opacity="0.41"/>
<ellipse cx="112.3" cy="67.8" rx="1.0" ry="0.7" fill="#52a030" opacity="0.33"/>
<ellipse cx="114.0" cy="67.7" rx="1.3" ry="0.7" fill="#52a030" opacity="0.31"/>
<ellipse cx="111.4" cy="72.2" rx="1.2" ry="0.7" fill="#449026" opacity="0.46"/>
<ellipse cx="52.0" cy="73.3" rx="1.1" ry="0.6" fill="#449026" opacity="0.45"/>
<ellipse cx="53.7" cy="73.5" rx="1.2" ry="0.6" fill="#449026" opacity="0.54"/>
<ellipse cx="102.9" cy="60.7" rx="1.1" ry="0.8" fill="#4a9a2a" opacity="0.29"/>
<ellipse cx="104.6" cy="60.6" rx="1.5" ry="0.8" fill="#4a9a2a" opacity="0.28"/>
<ellipse cx="106.3" cy="60.8" rx="1.6" ry="0.8" fill="#4a9a2a" opacity="0.40"/>
<ellipse cx="44.0" cy="63.4" rx="1.3" ry="0.8" fill="#4a9a2a" opacity="0.42"/>
<ellipse cx="88.8" cy="79.8" rx="1.4" ry="0.8" fill="#449026" opacity="0.24"/>
<ellipse cx="90.5" cy="79.8" rx="1.3" ry="0.8" fill="#449026" opacity="0.29"/>
<ellipse cx="71.9" cy="62.7" rx="1.1" ry="0.8" fill="#52a030" opacity="0.23"/>
<ellipse cx="73.6" cy="62.4" rx="1.1" ry="0.8" fill="#52a030" opacity="0.24"/>
<ellipse cx="75.3" cy="62.8" rx="1.0" ry="0.8" fill="#52a030" opacity="0.28"/>
<ellipse cx="72.8" cy="63.4" rx="1.1" ry="0.8" fill="#3f8a22" opacity="0.32"/>
<ellipse cx="74.5" cy="63.7" rx="0.9" ry="0.8" fill="#3f8a22" opacity="0.30"/>
<ellipse cx="76.2" cy="63.6" rx="1.5" ry="0.8" fill="#3f8a22" opacity="0.32"/>
<ellipse cx="125.6" cy="88.1" rx="1.1" ry="0.6" fill="#449026" opacity="0.35"/>
<ellipse cx="152.7" cy="78.0" rx="1.2" ry="0.7" fill="#4a9a2a" opacity="0.37"/>
<ellipse cx="154.4" cy="77.9" rx="1.1" ry="0.7" fill="#4a9a2a" opacity="0.34"/>
<ellipse cx="67.9" cy="83.8" rx="0.9" ry="0.7" fill="#5aaa36" opacity="0.28"/>
<ellipse cx="69.6" cy="83.9" rx="1.2" ry="0.7" fill="#5aaa36" opacity="0.28"/>
<ellipse cx="71.3" cy="83.8" rx="1.0" ry="0.7" fill="#5aaa36" opacity="0.24"/>
<ellipse cx="76.6" cy="89.5" rx="1.6" ry="0.6" fill="#52a030" opacity="0.20"/>
<ellipse cx="78.3" cy="89.3" rx="1.3" ry="0.6" fill="#52a030" opacity="0.19"/>
<ellipse cx="80.0" cy="89.6" rx="1.1" ry="0.6" fill="#52a030" opacity="0.22"/>
<ellipse cx="129.7" cy="80.2" rx="1.5" ry="0.7" fill="#5aaa36" opacity="0.55"/>
<ellipse cx="131.4" cy="80.2" rx="1.1" ry="0.7" fill="#5aaa36" opacity="0.54"/>
<ellipse cx="133.1" cy="79.9" rx="1.1" ry="0.7" fill="#5aaa36" opacity="0.65"/>
</g></g>
<rect x="43.8" y="31.7" width="115.9" height="61.9" fill="none" stroke="#0c1a04" stroke-width="0.8"/>
<rect x="43.5" y="101.1" width="116.5" height="62.2" fill="#1f360d"/>
<g clip-path="url(#c2)"><g filter="url(#blur)">
<ellipse cx="154.9" cy="160.1" rx="1.0" ry="0.7" fill="#3a6e1e" opacity="0.27"/>
<ellipse cx="156.6" cy="160.1" rx="1.0" ry="0.7" fill="#3a6e1e" opacity="0.30"/>
<ellipse cx="62.0" cy="127.8" rx="0.9" ry="0.6" fill="#4a8c2a" opacity="0.50"/>
<ellipse cx="63.7" cy="127.9" rx="0.6" ry="0.6" fill="#4a8c2a" opacity="0.56"/>
<ellipse cx="87.8" cy="156.5" rx="0.6" ry="0.5" fill="#55a033" opacity="0.28"/>
<ellipse cx="102.9" cy="163.4" rx="1.0" ry="0.7" fill="#55a033" opacity="0.54"/>
<ellipse cx="104.6" cy="163.1" rx="1.1" ry="0.7" fill="#55a033" opacity="0.58"/>
<ellipse cx="155.6" cy="111.0" rx="0.7" ry="0.7" fill="#4a8c2a" opacity="0.56"/>
<ellipse cx="157.3" cy="111.3" rx="0.9" ry="0.7" fill="#4a8c2a" opacity="0.59"/>
<ellipse cx="96.5" cy="157.2" rx="0.7" ry="0.6" fill="#4a8c2a" opacity="0.53"/>
<ellipse cx="98.2" cy="157.5" rx="0.7" ry="0.6" fill="#4a8c2a" opacity="0.46"/>
<ellipse cx="149.7" cy="120.4" rx="0.7" ry="0.6" fill="#55a033" opacity="0.70"/>
<ellipse cx="151.4" cy="120.1" rx="1.0" ry="0.6" fill="#55a033" opacity="0.68"/>
<ellipse cx="128.1" cy="157.4" rx="1.0" ry="0.5" fill="#3a6e1e" opacity="0.61"/>
<ellipse cx="145.5" cy="107.9" rx="0.7" ry="0.5" fill="#55a033" opacity="0.30"/>
<ellipse cx="147.2" cy="107.5" rx="1.0" ry="0.5" fill="#55a033" opacity="0.30"/>
<ellipse cx="63.5" cy="142.7" rx="1.0" ry="0.5" fill="#3a6e1e" opacity="0.28"/>
<ellipse cx="138.3" cy="111.1" rx="0.6" ry="0.6" fill="#3a6e1e" opacity="0.42"/>
<ellipse cx="47.7" cy="122.4" rx="0.9" ry="0.6" fill="#55a033" opacity="0.53"/>
<ellipse cx="114.0" cy="104.0" rx="0.7" ry="0.6" fill="#4a8c2a" opacity="0.54"/>
<ellipse cx="55.4" cy="129.1" rx="0.8" ry="0.6" fill="#3a6e1e" opacity="0.45"/>
<ellipse cx="57.1" cy="129.2" rx="0.8" ry="0.6" fill="#3a6e1e" opacity="0.50"/>
<ellipse cx="125.0" cy="160.7" rx="0.7" ry="0.5" fill="#55a033" opacity="0.25"/>
<ellipse cx="150.3" cy="144.9" rx="0.6" ry="0.7" fill="#3a6e1e" opacity="0.61"/>
<ellipse cx="135.7" cy="139.7" rx="1.1" ry="0.5" fill="#4a8c2a" opacity="0.35"/>
<ellipse cx="137.4" cy="139.9" rx="0.7" ry="0.5" fill="#4a8c2a" opacity="0.31"/>
<ellipse cx="55.4" cy="102.2" rx="0.9" ry="0.6" fill="#3a6e1e" opacity="0.31"/>
<ellipse cx="68.3" cy="157.5" rx="0.6" ry="0.6" fill="#3a6e1e" opacity="0.64"/>
<ellipse cx="70.0" cy="157.5" rx="1.2" ry="0.6" fill="#3a6e1e" opacity="0.65"/>
<ellipse cx="120.8" cy="131.2" rx="0.8" ry="0.7" fill="#3a6e1e" opacity="0.45"/>
<ellipse cx="45.7" cy="143.5" rx="1.0" ry="0.7" fill="#3a6e1e" opacity="0.29"/>
<ellipse cx="91.3" cy="131.2" rx="0.6" ry="0.5" fill="#3a6e1e" opacity="0.68"/>
<ellipse cx="69.0" cy="131.5" rx="0.7" ry="0.7" fill="#3a6e1e" opacity="0.57"/>
<ellipse cx="70.7" cy="131.4" rx="0.8" ry="0.7" fill="#3a6e1e" opacity="0.52"/>
<ellipse cx="82.5" cy="125.2" rx="0.9" ry="0.7" fill="#3a6e1e" opacity="0.59"/>
<ellipse cx="77.4" cy="160.9" rx="1.1" ry="0.6" fill="#3a6e1e" opacity="0.64"/>
<ellipse cx="79.1" cy="160.8" rx="0.9" ry="0.6" fill="#3a6e1e" opacity="0.63"/>
<ellipse cx="89.5" cy="110.6" rx="1.0" ry="0.7" fill="#55a033" opacity="0.39"/>
<ellipse cx="91.2" cy="110.6" rx="0.9" ry="0.7" fill="#55a033" opacity="0.32"/>
<ellipse cx="107.0" cy="151.1" rx="0.8" ry="0.5" fill="#3a6e1e" opacity="0.63"/>
<ellipse cx="122.8" cy="128.5" rx="1.2" ry="0.6" fill="#55a033" opacity="0.32"/>
<ellipse cx="103.7" cy="145.5" rx="1.0" ry="0.6" fill="#4a8c2a" opacity="0.38"/>
<ellipse cx="134.7" cy="136.9" rx="0.8" ry="0.7" fill="#3a6e1e" opacity="0.44"/>
<ellipse cx="49.7" cy="118.4" rx="0.9" ry="0.7" fill="#4a8c2a" opacity="0.52"/>
<ellipse cx="51.4" cy="118.2" rx="1.0" ry="0.7" fill="#4a8c2a" opacity="0.61"/>
<ellipse cx="142.8" cy="114.9" rx="1.0" ry="0.8" fill="#55a033" opacity="0.33"/>
<ellipse cx="144.5" cy="115.3" rx="1.0" ry="0.8" fill="#55a033" opacity="0.35"/>
<ellipse cx="138.6" cy="102.0" rx="1.1" ry="0.8" fill="#3a6e1e" opacity="0.63"/>
<ellipse cx="140.3" cy="102.0" rx="1.1" ry="0.8" fill="#3a6e1e" opacity="0.61"/>
<ellipse cx="111.8" cy="112.8" rx="0.9" ry="0.6" fill="#55a033" opacity="0.34"/>
<ellipse cx="113.5" cy="113.1" rx="1.2" ry="0.6" fill="#55a033" opacity="0.30"/>
<ellipse cx="149.0" cy="134.2" rx="1.2" ry="0.8" fill="#55a033" opacity="0.61"/>
<ellipse cx="150.7" cy="134.5" rx="0.9" ry="0.8" fill="#55a033" opacity="0.56"/>
<ellipse cx="84.0" cy="148.6" rx="0.9" ry="0.5" fill="#4a8c2a" opacity="0.39"/>
<ellipse cx="61.7" cy="118.7" rx="1.1" ry="0.5" fill="#4a8c2a" opacity="0.60"/>
<ellipse cx="63.4" cy="118.7" rx="1.0" ry="0.5" fill="#4a8c2a" opacity="0.58"/>
<ellipse cx="123.8" cy="145.5" rx="1.0" ry="0.6" fill="#4a8c2a" opacity="0.30"/>
<ellipse cx="125.5" cy="145.5" rx="0.8" ry="0.6" fill="#4a8c2a" opacity="0.25"/>
<ellipse cx="117.3" cy="125.3" rx="1.0" ry="0.7" fill="#55a033" opacity="0.56"/>
<ellipse cx="96.8" cy="115.5" rx="1.1" ry="0.5" fill="#4a8c2a" opacity="0.27"/>
<ellipse cx="80.6" cy="106.1" rx="0.8" ry="0.6" fill="#4a8c2a" opacity="0.47"/>
<ellipse cx="82.3" cy="106.0" rx="0.9" ry="0.6" fill="#4a8c2a" opacity="0.47"/>
<ellipse cx="81.5" cy="107.1" rx="0.7" ry="0.5" fill="#3a6e1e" opacity="0.42"/>
<ellipse cx="83.2" cy="107.2" rx="0.9" ry="0.5" fill="#3a6e1e" opacity="0.50"/>
<ellipse cx="130.8" cy="118.7" rx="1.1" ry="0.7" fill="#55a033" opacity="0.75"/>
<ellipse cx="132.5" cy="118.8" rx="1.1" ry="0.7" fill="#55a033" opacity="0.60"/>
<ellipse cx="116.0" cy="142.7" rx="1.2" ry="0.5" fill="#4a8c2a" opacity="0.38"/>
<ellipse cx="117.7" cy="142.7" rx="1.1" ry="0.5" fill="#4a8c2a" opacity="0.45"/>
<ellipse cx="58.3" cy="103.0" rx="1.1" ry="0.8" fill="#4a8c2a" opacity="0.32"/>
<ellipse cx="106.7" cy="115.8" rx="1.1" ry="0.6" fill="#55a033" opacity="0.38"/>
<ellipse cx="108.4" cy="116.1" rx="0.9" ry="0.6" fill="#55a033" opacity="0.46"/>
<ellipse cx="82.1" cy="110.0" rx="1.0" ry="0.5" fill="#4a8c2a" opacity="0.30"/>
<ellipse cx="83.8" cy="110.0" rx="1.2" ry="0.5" fill="#4a8c2a" opacity="0.38"/>
<ellipse cx="144.0" cy="112.3" rx="0.9" ry="0.5" fill="#3a6e1e" opacity="0.41"/>
<ellipse cx="145.7" cy="112.2" rx="1.1" ry="0.5" fill="#3a6e1e" opacity="0.42"/>
<ellipse cx="159.7" cy="125.3" rx="1.0" ry="0.6" fill="#4a8c2a" opacity="0.46"/>
<ellipse cx="161.4" cy="125.5" rx="1.0" ry="0.6" fill="#4a8c2a" opacity="0.45"/>
<ellipse cx="124.1" cy="111.7" rx="0.9" ry="0.8" fill="#4a8c2a" opacity="0.41"/>
<ellipse cx="150.8" cy="132.1" rx="1.0" ry="0.6" fill="#3a6e1e" opacity="0.31"/>
<ellipse cx="152.5" cy="132.0" rx="0.7" ry="0.6" fill="#3a6e1e" opacity="0.28"/>
<ellipse cx="158.1" cy="122.0" rx="0.9" ry="0.5" fill="#55a033" opacity="0.40"/>
<ellipse cx="159.8" cy="121.8" rx="0.9" ry="0.5" fill="#55a033" opacity="0.40"/>
<ellipse cx="150.5" cy="152.0" rx="0.9" ry="0.5" fill="#55a033" opacity="0.34"/>
<ellipse cx="56.1" cy="114.2" rx="1.0" ry="0.6" fill="#3a6e1e" opacity="0.60"/>
<ellipse cx="57.8" cy="114.4" rx="0.9" ry="0.6" fill="#3a6e1e" opacity="0.55"/>
<ellipse cx="103.0" cy="152.9" rx="0.7" ry="0.5" fill="#3a6e1e" opacity="0.46"/>
<ellipse cx="58.7" cy="120.7" rx="0.8" ry="0.6" fill="#4a8c2a" opacity="0.70"/>
<ellipse cx="70.2" cy="144.7" rx="0.9" ry="0.5" fill="#55a033" opacity="0.43"/>
<ellipse cx="111.0" cy="141.0" rx="0.9" ry="0.7" fill="#55a033" opacity="0.29"/>
<ellipse cx="112.7" cy="141.4" rx="1.1" ry="0.7" fill="#55a033" opacity="0.27"/>
<ellipse cx="47.9" cy="113.4" rx="0.7" ry="0.7" fill="#3a6e1e" opacity="0.36"/>
<ellipse cx="116.8" cy="160.8" rx="0.9" ry="0.7" fill="#3a6e1e" opacity="0.69"/>
<ellipse cx="118.5" cy="160.8" rx="1.0" ry="0.7" fill="#3a6e1e" opacity="0.56"/>
<ellipse cx="143.9" cy="140.7" rx="0.8" ry="0.5" fill="#55a033" opacity="0.36"/>
<ellipse cx="104.7" cy="158.5" rx="1.1" ry="0.7" fill="#3a6e1e" opacity="0.43"/>
<ellipse cx="83.8" cy="130.7" rx="1.1" ry="0.6" fill="#4a8c2a" opacity="0.49"/>
<ellipse cx="85.5" cy="130.5" rx="0.6" ry="0.6" fill="#4a8c2a" opacity="0.54"/>
<ellipse cx="98.4" cy="148.8" rx="0.8" ry="0.7" fill="#55a033" opacity="0.60"/>
<ellipse cx="78.4" cy="102.0" rx="0.9" ry="0.5" fill="#3a6e1e" opacity="0.36"/>
<ellipse cx="80.1" cy="101.7" rx="1.1" ry="0.5" fill="#3a6e1e" opacity="0.34"/>
</g></g>
<rect x="43.8" y="101.39999999999999" width="115.9" height="61.6" fill="none" stroke="#0c1a04" stroke-width="0.8"/>
<line x1="48.90" y1="87.55" x2="60.90" y2="87.55" stroke="#c4c9bc" stroke-width="1.35" />
<line x1="48.90" y1="157.05" x2="60.90" y2="157.05" stroke="#c4c9bc" stroke-width="1.5" />
<text transform="translate(38.00,79.20) rotate(-90)" x="0" y="0" font-size="9.6" text-anchor="start" fill="#365590" textLength="27.80" lengthAdjust="spacingAndGlyphs" >Healthy</text>
<text transform="translate(37.90,144.50) rotate(-90)" x="0" y="0" font-size="9.6" text-anchor="start" fill="#c0245a" textLength="26.70" lengthAdjust="spacingAndGlyphs" >Trauma</text>
<line x1="207.70" y1="53.30" x2="207.70" y2="164.20" stroke="#111" stroke-width="1.2" />
<line x1="207.10" y1="163.70" x2="365.60" y2="163.70" stroke="#111" stroke-width="1.2" />
<line x1="204.70" y1="150.80" x2="207.70" y2="150.80" stroke="#111" stroke-width="1.0" />
<text x="201.50" y="153.80" font-size="8.4" text-anchor="end" fill="#111" font-weight="normal" >0</text>
<line x1="204.70" y1="131.80" x2="207.70" y2="131.80" stroke="#111" stroke-width="1.0" />
<text x="201.50" y="134.80" font-size="8.4" text-anchor="end" fill="#111" font-weight="normal" >5</text>
<line x1="204.70" y1="112.80" x2="207.70" y2="112.80" stroke="#111" stroke-width="1.0" />
<text x="201.50" y="115.80" font-size="8.4" text-anchor="end" fill="#111" font-weight="normal" >10</text>
<line x1="204.70" y1="93.80" x2="207.70" y2="93.80" stroke="#111" stroke-width="1.0" />
<text x="201.50" y="96.80" font-size="8.4" text-anchor="end" fill="#111" font-weight="normal" >15</text>
<line x1="204.70" y1="74.80" x2="207.70" y2="74.80" stroke="#111" stroke-width="1.0" />
<text x="201.50" y="77.80" font-size="8.4" text-anchor="end" fill="#111" font-weight="normal" >20</text>
<line x1="204.70" y1="55.80" x2="207.70" y2="55.80" stroke="#111" stroke-width="1.0" />
<text x="201.50" y="58.80" font-size="8.4" text-anchor="end" fill="#111" font-weight="normal" >25</text>
<line x1="223.90" y1="163.70" x2="223.90" y2="166.60" stroke="#111" stroke-width="1.0" />
<text transform="translate(227.10,174.00) rotate(-45)" x="0" y="0" font-size="8.8" text-anchor="end" fill="#111">0</text>
<line x1="230.81" y1="163.70" x2="230.81" y2="166.60" stroke="#111" stroke-width="1.0" />
<line x1="237.73" y1="163.70" x2="237.73" y2="166.60" stroke="#111" stroke-width="1.0" />
<text transform="translate(240.93,174.00) rotate(-45)" x="0" y="0" font-size="8.8" text-anchor="end" fill="#111">30</text>
<line x1="244.65" y1="163.70" x2="244.65" y2="166.60" stroke="#111" stroke-width="1.0" />
<line x1="251.56" y1="163.70" x2="251.56" y2="166.60" stroke="#111" stroke-width="1.0" />
<text transform="translate(254.76,174.00) rotate(-45)" x="0" y="0" font-size="8.8" text-anchor="end" fill="#111">60</text>
<line x1="258.48" y1="163.70" x2="258.48" y2="166.60" stroke="#111" stroke-width="1.0" />
<line x1="265.39" y1="163.70" x2="265.39" y2="166.60" stroke="#111" stroke-width="1.0" />
<text transform="translate(268.59,174.00) rotate(-45)" x="0" y="0" font-size="8.8" text-anchor="end" fill="#111">90</text>
<line x1="272.31" y1="163.70" x2="272.31" y2="166.60" stroke="#111" stroke-width="1.0" />
<line x1="279.22" y1="163.70" x2="279.22" y2="166.60" stroke="#111" stroke-width="1.0" />
<text transform="translate(282.42,174.00) rotate(-45)" x="0" y="0" font-size="8.8" text-anchor="end" fill="#111">120</text>
<line x1="286.13" y1="163.70" x2="286.13" y2="166.60" stroke="#111" stroke-width="1.0" />
<line x1="293.05" y1="163.70" x2="293.05" y2="166.60" stroke="#111" stroke-width="1.0" />
<text transform="translate(296.25,174.00) rotate(-45)" x="0" y="0" font-size="8.8" text-anchor="end" fill="#111">150</text>
<line x1="299.97" y1="163.70" x2="299.97" y2="166.60" stroke="#111" stroke-width="1.0" />
<line x1="306.88" y1="163.70" x2="306.88" y2="166.60" stroke="#111" stroke-width="1.0" />
<text transform="translate(310.08,174.00) rotate(-45)" x="0" y="0" font-size="8.8" text-anchor="end" fill="#111">180</text>
<line x1="313.80" y1="163.70" x2="313.80" y2="166.60" stroke="#111" stroke-width="1.0" />
<line x1="320.71" y1="163.70" x2="320.71" y2="166.60" stroke="#111" stroke-width="1.0" />
<text transform="translate(323.91,174.00) rotate(-45)" x="0" y="0" font-size="8.8" text-anchor="end" fill="#111">210</text>
<line x1="327.62" y1="163.70" x2="327.62" y2="166.60" stroke="#111" stroke-width="1.0" />
<line x1="334.54" y1="163.70" x2="334.54" y2="166.60" stroke="#111" stroke-width="1.0" />
<text transform="translate(337.74,174.00) rotate(-45)" x="0" y="0" font-size="8.8" text-anchor="end" fill="#111">240</text>
<line x1="341.46" y1="163.70" x2="341.46" y2="166.60" stroke="#111" stroke-width="1.0" />
<line x1="348.37" y1="163.70" x2="348.37" y2="166.60" stroke="#111" stroke-width="1.0" />
<text transform="translate(351.57,174.00) rotate(-45)" x="0" y="0" font-size="8.8" text-anchor="end" fill="#111">270</text>
<line x1="355.28" y1="163.70" x2="355.28" y2="166.60" stroke="#111" stroke-width="1.0" />
<line x1="362.20" y1="163.70" x2="362.20" y2="166.60" stroke="#111" stroke-width="1.0" />
<text transform="translate(365.40,174.00) rotate(-45)" x="0" y="0" font-size="8.8" text-anchor="end" fill="#111">300</text>
<text x="269.30" y="197.90" font-size="10.4" fill="#111" textLength="13.70" lengthAdjust="spacingAndGlyphs" stroke="#222" stroke-width="0.22">Time</text>
<text x="286.00" y="197.90" font-size="10.4" fill="#111" textLength="30.70" lengthAdjust="spacingAndGlyphs" stroke="#222" stroke-width="0.22">(seconds)</text>
<text transform="translate(185.80,131.90) rotate(-90)" x="0" y="0" font-size="10.4" text-anchor="start" fill="#111" textLength="57.70" lengthAdjust="spacingAndGlyphs" stroke="#222" stroke-width="0.22">Area coverage (%)</text>
<polyline points="223.90,150.60 230.81,150.00 237.73,148.50 244.65,147.00 251.56,145.90 258.48,136.90 265.39,136.00 272.31,134.00 279.22,133.20 286.13,132.20 293.05,131.10 299.97,131.70 306.88,130.50 313.80,129.10 320.71,126.80 327.62,125.30 334.54,124.80 341.46,124.10 348.37,121.30 355.28,122.30 362.20,119.40" fill="none" stroke="#c0173f" stroke-width="1.1"/>
<polyline points="223.90,150.40 230.81,149.80 237.73,148.20 244.65,146.80 251.56,145.80 258.48,143.20 265.39,139.20 272.31,130.60 279.22,126.90 286.13,122.40 293.05,118.00 299.97,113.00 306.88,108.80 313.80,106.00 320.71,103.20 327.62,98.10 334.54,96.70 341.46,90.90 348.37,86.80 355.28,83.50 362.20,81.00" fill="none" stroke="#3e5e98" stroke-width="1.1"/>
<line x1="251.56" y1="142.40" x2="251.56" y2="149.40" stroke="#c0173f" stroke-width="1.1" />
<line x1="250.06" y1="142.40" x2="253.06" y2="142.40" stroke="#c0173f" stroke-width="1.1" />
<line x1="250.06" y1="149.40" x2="253.06" y2="149.40" stroke="#c0173f" stroke-width="1.1" />
<line x1="258.48" y1="130.30" x2="258.48" y2="143.50" stroke="#c0173f" stroke-width="1.1" />
<line x1="256.98" y1="130.30" x2="259.98" y2="130.30" stroke="#c0173f" stroke-width="1.1" />
<line x1="256.98" y1="143.50" x2="259.98" y2="143.50" stroke="#c0173f" stroke-width="1.1" />
<line x1="265.39" y1="129.00" x2="265.39" y2="143.00" stroke="#c0173f" stroke-width="1.1" />
<line x1="263.89" y1="129.00" x2="266.89" y2="129.00" stroke="#c0173f" stroke-width="1.1" />
<line x1="263.89" y1="143.00" x2="266.89" y2="143.00" stroke="#c0173f" stroke-width="1.1" />
<line x1="272.31" y1="126.50" x2="272.31" y2="141.50" stroke="#c0173f" stroke-width="1.1" />
<line x1="270.81" y1="126.50" x2="273.81" y2="126.50" stroke="#c0173f" stroke-width="1.1" />
<line x1="270.81" y1="141.50" x2="273.81" y2="141.50" stroke="#c0173f" stroke-width="1.1" />
<line x1="279.22" y1="126.20" x2="279.22" y2="140.20" stroke="#c0173f" stroke-width="1.1" />
<line x1="277.72" y1="126.20" x2="280.72" y2="126.20" stroke="#c0173f" stroke-width="1.1" />
<line x1="277.72" y1="140.20" x2="280.72" y2="140.20" stroke="#c0173f" stroke-width="1.1" />
<line x1="286.13" y1="125.70" x2="286.13" y2="138.70" stroke="#c0173f" stroke-width="1.1" />
<line x1="284.63" y1="125.70" x2="287.63" y2="125.70" stroke="#c0173f" stroke-width="1.1" />
<line x1="284.63" y1="138.70" x2="287.63" y2="138.70" stroke="#c0173f" stroke-width="1.1" />
<line x1="293.05" y1="124.30" x2="293.05" y2="137.90" stroke="#c0173f" stroke-width="1.1" />
<line x1="291.55" y1="124.30" x2="294.55" y2="124.30" stroke="#c0173f" stroke-width="1.1" />
<line x1="291.55" y1="137.90" x2="294.55" y2="137.90" stroke="#c0173f" stroke-width="1.1" />
<line x1="299.97" y1="125.70" x2="299.97" y2="137.70" stroke="#c0173f" stroke-width="1.1" />
<line x1="298.47" y1="125.70" x2="301.47" y2="125.70" stroke="#c0173f" stroke-width="1.1" />
<line x1="298.47" y1="137.70" x2="301.47" y2="137.70" stroke="#c0173f" stroke-width="1.1" />
<line x1="306.88" y1="124.30" x2="306.88" y2="136.70" stroke="#c0173f" stroke-width="1.1" />
<line x1="305.38" y1="124.30" x2="308.38" y2="124.30" stroke="#c0173f" stroke-width="1.1" />
<line x1="305.38" y1="136.70" x2="308.38" y2="136.70" stroke="#c0173f" stroke-width="1.1" />
<line x1="313.80" y1="123.10" x2="313.80" y2="135.10" stroke="#c0173f" stroke-width="1.1" />
<line x1="312.30" y1="123.10" x2="315.30" y2="123.10" stroke="#c0173f" stroke-width="1.1" />
<line x1="312.30" y1="135.10" x2="315.30" y2="135.10" stroke="#c0173f" stroke-width="1.1" />
<line x1="320.71" y1="120.60" x2="320.71" y2="133.00" stroke="#c0173f" stroke-width="1.1" />
<line x1="319.21" y1="120.60" x2="322.21" y2="120.60" stroke="#c0173f" stroke-width="1.1" />
<line x1="319.21" y1="133.00" x2="322.21" y2="133.00" stroke="#c0173f" stroke-width="1.1" />
<line x1="327.62" y1="118.30" x2="327.62" y2="132.30" stroke="#c0173f" stroke-width="1.1" />
<line x1="326.12" y1="118.30" x2="329.12" y2="118.30" stroke="#c0173f" stroke-width="1.1" />
<line x1="326.12" y1="132.30" x2="329.12" y2="132.30" stroke="#c0173f" stroke-width="1.1" />
<line x1="334.54" y1="118.30" x2="334.54" y2="131.30" stroke="#c0173f" stroke-width="1.1" />
<line x1="333.04" y1="118.30" x2="336.04" y2="118.30" stroke="#c0173f" stroke-width="1.1" />
<line x1="333.04" y1="131.30" x2="336.04" y2="131.30" stroke="#c0173f" stroke-width="1.1" />
<line x1="341.46" y1="117.30" x2="341.46" y2="130.90" stroke="#c0173f" stroke-width="1.1" />
<line x1="339.96" y1="117.30" x2="342.96" y2="117.30" stroke="#c0173f" stroke-width="1.1" />
<line x1="339.96" y1="130.90" x2="342.96" y2="130.90" stroke="#c0173f" stroke-width="1.1" />
<line x1="348.37" y1="113.80" x2="348.37" y2="128.80" stroke="#c0173f" stroke-width="1.1" />
<line x1="346.87" y1="113.80" x2="349.87" y2="113.80" stroke="#c0173f" stroke-width="1.1" />
<line x1="346.87" y1="128.80" x2="349.87" y2="128.80" stroke="#c0173f" stroke-width="1.1" />
<line x1="355.28" y1="114.30" x2="355.28" y2="130.30" stroke="#c0173f" stroke-width="1.1" />
<line x1="353.78" y1="114.30" x2="356.78" y2="114.30" stroke="#c0173f" stroke-width="1.1" />
<line x1="353.78" y1="130.30" x2="356.78" y2="130.30" stroke="#c0173f" stroke-width="1.1" />
<line x1="362.20" y1="111.40" x2="362.20" y2="127.40" stroke="#c0173f" stroke-width="1.1" />
<line x1="360.70" y1="111.40" x2="363.70" y2="111.40" stroke="#c0173f" stroke-width="1.1" />
<line x1="360.70" y1="127.40" x2="363.70" y2="127.40" stroke="#c0173f" stroke-width="1.1" />
<line x1="258.48" y1="141.70" x2="258.48" y2="144.70" stroke="#3e5e98" stroke-width="1.1" />
<line x1="256.98" y1="141.70" x2="259.98" y2="141.70" stroke="#3e5e98" stroke-width="1.1" />
<line x1="256.98" y1="144.70" x2="259.98" y2="144.70" stroke="#3e5e98" stroke-width="1.1" />
<line x1="265.39" y1="136.20" x2="265.39" y2="142.20" stroke="#3e5e98" stroke-width="1.1" />
<line x1="263.89" y1="136.20" x2="266.89" y2="136.20" stroke="#3e5e98" stroke-width="1.1" />
<line x1="263.89" y1="142.20" x2="266.89" y2="142.20" stroke="#3e5e98" stroke-width="1.1" />
<line x1="272.31" y1="126.10" x2="272.31" y2="135.10" stroke="#3e5e98" stroke-width="1.1" />
<line x1="270.81" y1="126.10" x2="273.81" y2="126.10" stroke="#3e5e98" stroke-width="1.1" />
<line x1="270.81" y1="135.10" x2="273.81" y2="135.10" stroke="#3e5e98" stroke-width="1.1" />
<line x1="279.22" y1="122.40" x2="279.22" y2="131.40" stroke="#3e5e98" stroke-width="1.1" />
<line x1="277.72" y1="122.40" x2="280.72" y2="122.40" stroke="#3e5e98" stroke-width="1.1" />
<line x1="277.72" y1="131.40" x2="280.72" y2="131.40" stroke="#3e5e98" stroke-width="1.1" />
<line x1="286.13" y1="118.40" x2="286.13" y2="126.40" stroke="#3e5e98" stroke-width="1.1" />
<line x1="284.63" y1="118.40" x2="287.63" y2="118.40" stroke="#3e5e98" stroke-width="1.1" />
<line x1="284.63" y1="126.40" x2="287.63" y2="126.40" stroke="#3e5e98" stroke-width="1.1" />
<line x1="293.05" y1="114.00" x2="293.05" y2="122.00" stroke="#3e5e98" stroke-width="1.1" />
<line x1="291.55" y1="114.00" x2="294.55" y2="114.00" stroke="#3e5e98" stroke-width="1.1" />
<line x1="291.55" y1="122.00" x2="294.55" y2="122.00" stroke="#3e5e98" stroke-width="1.1" />
<line x1="299.97" y1="108.50" x2="299.97" y2="117.50" stroke="#3e5e98" stroke-width="1.1" />
<line x1="298.47" y1="108.50" x2="301.47" y2="108.50" stroke="#3e5e98" stroke-width="1.1" />
<line x1="298.47" y1="117.50" x2="301.47" y2="117.50" stroke="#3e5e98" stroke-width="1.1" />
<line x1="306.88" y1="104.00" x2="306.88" y2="113.60" stroke="#3e5e98" stroke-width="1.1" />
<line x1="305.38" y1="104.00" x2="308.38" y2="104.00" stroke="#3e5e98" stroke-width="1.1" />
<line x1="305.38" y1="113.60" x2="308.38" y2="113.60" stroke="#3e5e98" stroke-width="1.1" />
<line x1="313.80" y1="102.00" x2="313.80" y2="110.00" stroke="#3e5e98" stroke-width="1.1" />
<line x1="312.30" y1="102.00" x2="315.30" y2="102.00" stroke="#3e5e98" stroke-width="1.1" />
<line x1="312.30" y1="110.00" x2="315.30" y2="110.00" stroke="#3e5e98" stroke-width="1.1" />
<line x1="320.71" y1="99.20" x2="320.71" y2="107.20" stroke="#3e5e98" stroke-width="1.1" />
<line x1="319.21" y1="99.20" x2="322.21" y2="99.20" stroke="#3e5e98" stroke-width="1.1" />
<line x1="319.21" y1="107.20" x2="322.21" y2="107.20" stroke="#3e5e98" stroke-width="1.1" />
<line x1="327.62" y1="94.30" x2="327.62" y2="101.90" stroke="#3e5e98" stroke-width="1.1" />
<line x1="326.12" y1="94.30" x2="329.12" y2="94.30" stroke="#3e5e98" stroke-width="1.1" />
<line x1="326.12" y1="101.90" x2="329.12" y2="101.90" stroke="#3e5e98" stroke-width="1.1" />
<line x1="334.54" y1="92.20" x2="334.54" y2="101.20" stroke="#3e5e98" stroke-width="1.1" />
<line x1="333.04" y1="92.20" x2="336.04" y2="92.20" stroke="#3e5e98" stroke-width="1.1" />
<line x1="333.04" y1="101.20" x2="336.04" y2="101.20" stroke="#3e5e98" stroke-width="1.1" />
<line x1="341.46" y1="85.70" x2="341.46" y2="96.10" stroke="#3e5e98" stroke-width="1.1" />
<line x1="339.96" y1="85.70" x2="342.96" y2="85.70" stroke="#3e5e98" stroke-width="1.1" />
<line x1="339.96" y1="96.10" x2="342.96" y2="96.10" stroke="#3e5e98" stroke-width="1.1" />
<line x1="348.37" y1="80.10" x2="348.37" y2="93.50" stroke="#3e5e98" stroke-width="1.1" />
<line x1="346.87" y1="80.10" x2="349.87" y2="80.10" stroke="#3e5e98" stroke-width="1.1" />
<line x1="346.87" y1="93.50" x2="349.87" y2="93.50" stroke="#3e5e98" stroke-width="1.1" />
<line x1="355.28" y1="76.30" x2="355.28" y2="90.70" stroke="#3e5e98" stroke-width="1.1" />
<line x1="353.78" y1="76.30" x2="356.78" y2="76.30" stroke="#3e5e98" stroke-width="1.1" />
<line x1="353.78" y1="90.70" x2="356.78" y2="90.70" stroke="#3e5e98" stroke-width="1.1" />
<line x1="362.20" y1="73.20" x2="362.20" y2="88.80" stroke="#3e5e98" stroke-width="1.1" />
<line x1="360.70" y1="73.20" x2="363.70" y2="73.20" stroke="#3e5e98" stroke-width="1.1" />
<line x1="360.70" y1="88.80" x2="363.70" y2="88.80" stroke="#3e5e98" stroke-width="1.1" />
<rect x="222.10" y="148.80" width="3.6" height="3.6" rx="0.6" fill="#fff" stroke="#2a2a2a" stroke-width="1.0"/>
<rect x="229.01" y="148.20" width="3.6" height="3.6" rx="0.6" fill="#fff" stroke="#2a2a2a" stroke-width="1.0"/>
<rect x="235.93" y="146.70" width="3.6" height="3.6" rx="0.6" fill="#fff" stroke="#2a2a2a" stroke-width="1.0"/>
<rect x="242.84" y="145.20" width="3.6" height="3.6" rx="0.6" fill="#fff" stroke="#2a2a2a" stroke-width="1.0"/>
<rect x="249.76" y="144.10" width="3.6" height="3.6" rx="0.6" fill="#fff" stroke="#2a2a2a" stroke-width="1.0"/>
<rect x="256.68" y="135.10" width="3.6" height="3.6" rx="0.6" fill="#fff" stroke="#2a2a2a" stroke-width="1.0"/>
<rect x="263.59" y="134.20" width="3.6" height="3.6" rx="0.6" fill="#fff" stroke="#2a2a2a" stroke-width="1.0"/>
<rect x="270.50" y="132.20" width="3.6" height="3.6" rx="0.6" fill="#fff" stroke="#2a2a2a" stroke-width="1.0"/>
<rect x="277.42" y="131.40" width="3.6" height="3.6" rx="0.6" fill="#fff" stroke="#2a2a2a" stroke-width="1.0"/>
<rect x="284.33" y="130.40" width="3.6" height="3.6" rx="0.6" fill="#fff" stroke="#2a2a2a" stroke-width="1.0"/>
<rect x="291.25" y="129.30" width="3.6" height="3.6" rx="0.6" fill="#fff" stroke="#2a2a2a" stroke-width="1.0"/>
<rect x="298.17" y="129.90" width="3.6" height="3.6" rx="0.6" fill="#fff" stroke="#2a2a2a" stroke-width="1.0"/>
<rect x="305.08" y="128.70" width="3.6" height="3.6" rx="0.6" fill="#fff" stroke="#2a2a2a" stroke-width="1.0"/>
<rect x="312.00" y="127.30" width="3.6" height="3.6" rx="0.6" fill="#fff" stroke="#2a2a2a" stroke-width="1.0"/>
<rect x="318.91" y="125.00" width="3.6" height="3.6" rx="0.6" fill="#fff" stroke="#2a2a2a" stroke-width="1.0"/>
<rect x="325.82" y="123.50" width="3.6" height="3.6" rx="0.6" fill="#fff" stroke="#2a2a2a" stroke-width="1.0"/>
<rect x="332.74" y="123.00" width="3.6" height="3.6" rx="0.6" fill="#fff" stroke="#2a2a2a" stroke-width="1.0"/>
<rect x="339.66" y="122.30" width="3.6" height="3.6" rx="0.6" fill="#fff" stroke="#2a2a2a" stroke-width="1.0"/>
<rect x="346.57" y="119.50" width="3.6" height="3.6" rx="0.6" fill="#fff" stroke="#2a2a2a" stroke-width="1.0"/>
<rect x="353.48" y="120.50" width="3.6" height="3.6" rx="0.6" fill="#fff" stroke="#2a2a2a" stroke-width="1.0"/>
<rect x="360.40" y="117.60" width="3.6" height="3.6" rx="0.6" fill="#fff" stroke="#2a2a2a" stroke-width="1.0"/>
<rect x="222.10" y="148.60" width="3.6" height="3.6" rx="0.6" fill="#fff" stroke="#2a2a2a" stroke-width="1.0"/>
<rect x="229.01" y="148.00" width="3.6" height="3.6" rx="0.6" fill="#fff" stroke="#2a2a2a" stroke-width="1.0"/>
<rect x="235.93" y="146.40" width="3.6" height="3.6" rx="0.6" fill="#fff" stroke="#2a2a2a" stroke-width="1.0"/>
<rect x="242.84" y="145.00" width="3.6" height="3.6" rx="0.6" fill="#fff" stroke="#2a2a2a" stroke-width="1.0"/>
<rect x="249.76" y="144.00" width="3.6" height="3.6" rx="0.6" fill="#fff" stroke="#2a2a2a" stroke-width="1.0"/>
<rect x="256.68" y="141.40" width="3.6" height="3.6" rx="0.6" fill="#fff" stroke="#2a2a2a" stroke-width="1.0"/>
<rect x="263.59" y="137.40" width="3.6" height="3.6" rx="0.6" fill="#fff" stroke="#2a2a2a" stroke-width="1.0"/>
<rect x="270.50" y="128.80" width="3.6" height="3.6" rx="0.6" fill="#fff" stroke="#2a2a2a" stroke-width="1.0"/>
<rect x="277.42" y="125.10" width="3.6" height="3.6" rx="0.6" fill="#fff" stroke="#2a2a2a" stroke-width="1.0"/>
<rect x="284.33" y="120.60" width="3.6" height="3.6" rx="0.6" fill="#fff" stroke="#2a2a2a" stroke-width="1.0"/>
<rect x="291.25" y="116.20" width="3.6" height="3.6" rx="0.6" fill="#fff" stroke="#2a2a2a" stroke-width="1.0"/>
<rect x="298.17" y="111.20" width="3.6" height="3.6" rx="0.6" fill="#fff" stroke="#2a2a2a" stroke-width="1.0"/>
<rect x="305.08" y="107.00" width="3.6" height="3.6" rx="0.6" fill="#fff" stroke="#2a2a2a" stroke-width="1.0"/>
<rect x="312.00" y="104.20" width="3.6" height="3.6" rx="0.6" fill="#fff" stroke="#2a2a2a" stroke-width="1.0"/>
<rect x="318.91" y="101.40" width="3.6" height="3.6" rx="0.6" fill="#fff" stroke="#2a2a2a" stroke-width="1.0"/>
<rect x="325.82" y="96.30" width="3.6" height="3.6" rx="0.6" fill="#fff" stroke="#2a2a2a" stroke-width="1.0"/>
<rect x="332.74" y="94.90" width="3.6" height="3.6" rx="0.6" fill="#fff" stroke="#2a2a2a" stroke-width="1.0"/>
<rect x="339.66" y="89.10" width="3.6" height="3.6" rx="0.6" fill="#fff" stroke="#2a2a2a" stroke-width="1.0"/>
<rect x="346.57" y="85.00" width="3.6" height="3.6" rx="0.6" fill="#fff" stroke="#2a2a2a" stroke-width="1.0"/>
<rect x="353.48" y="81.70" width="3.6" height="3.6" rx="0.6" fill="#fff" stroke="#2a2a2a" stroke-width="1.0"/>
<rect x="360.40" y="79.20" width="3.6" height="3.6" rx="0.6" fill="#fff" stroke="#2a2a2a" stroke-width="1.0"/>
<circle cx="325.10" cy="86.80" r="1.05" fill="#151515"/>
<circle cx="331.90" cy="83.90" r="1.05" fill="#151515"/>
<circle cx="338.60" cy="78.70" r="1.05" fill="#151515"/>
<circle cx="347.10" cy="74.00" r="1.05" fill="#151515"/>
<circle cx="353.32" cy="69.00" r="1.05" fill="#151515"/>
<circle cx="356.47" cy="69.00" r="1.05" fill="#151515"/>
<circle cx="360.57" cy="62.40" r="1.05" fill="#151515"/>
<circle cx="363.72" cy="62.40" r="1.05" fill="#151515"/>
<line x1="218.80" y1="78.50" x2="229.40" y2="78.50" stroke="#c0173f" stroke-width="1.1" />
<circle cx="224.10" cy="78.50" r="1.7" fill="#fff" stroke="#333" stroke-width="0.9"/>
<line x1="218.80" y1="90.70" x2="229.40" y2="90.70" stroke="#3e5e98" stroke-width="1.1" />
<circle cx="224.10" cy="90.70" r="1.7" fill="#fff" stroke="#333" stroke-width="0.9"/>
<text x="233.20" y="81.00" font-size="8.7" text-anchor="start" fill="#111" font-weight="normal" textLength="31.7" lengthAdjust="spacingAndGlyphs" >TRAUMA</text>
<text x="233.20" y="93.10" font-size="8.7" text-anchor="start" fill="#111" font-weight="normal" textLength="33.4" lengthAdjust="spacingAndGlyphs" >HEALTHY</text>
<line x1="414.00" y1="53.50" x2="414.00" y2="163.90" stroke="#111" stroke-width="1.2" />
<line x1="413.40" y1="163.40" x2="478.90" y2="163.40" stroke="#111" stroke-width="1.2" />
<line x1="411.00" y1="152.10" x2="414.00" y2="152.10" stroke="#111" stroke-width="1.0" />
<text x="407.80" y="155.10" font-size="8.4" text-anchor="end" fill="#111" font-weight="normal" >0</text>
<line x1="411.00" y1="127.95" x2="414.00" y2="127.95" stroke="#111" stroke-width="1.0" />
<text x="407.80" y="130.95" font-size="8.4" text-anchor="end" fill="#111" font-weight="normal" >10</text>
<line x1="411.00" y1="103.80" x2="414.00" y2="103.80" stroke="#111" stroke-width="1.0" />
<text x="407.80" y="106.80" font-size="8.4" text-anchor="end" fill="#111" font-weight="normal" >20</text>
<line x1="411.00" y1="79.65" x2="414.00" y2="79.65" stroke="#111" stroke-width="1.0" />
<text x="407.80" y="82.65" font-size="8.4" text-anchor="end" fill="#111" font-weight="normal" >30</text>
<line x1="411.00" y1="55.50" x2="414.00" y2="55.50" stroke="#111" stroke-width="1.0" />
<text x="407.80" y="58.50" font-size="8.4" text-anchor="end" fill="#111" font-weight="normal" >40</text>
<line x1="439.00" y1="163.40" x2="439.00" y2="166.20" stroke="#111" stroke-width="1.0" />
<line x1="465.50" y1="163.40" x2="465.50" y2="166.20" stroke="#111" stroke-width="1.0" />
<text transform="translate(442.00,174.00) rotate(-45)" x="0" y="0" font-size="8.7" text-anchor="end" fill="#111" textLength="26.8" lengthAdjust="spacingAndGlyphs">Healthy</text>
<text transform="translate(468.60,173.60) rotate(-45)" x="0" y="0" font-size="8.7" text-anchor="end" fill="#111" textLength="27.2" lengthAdjust="spacingAndGlyphs">Trauma</text>
<text transform="translate(392.20,133.80) rotate(-90)" x="0" y="0" font-size="10.4" text-anchor="start" fill="#111" textLength="59.00" lengthAdjust="spacingAndGlyphs" stroke="#222" stroke-width="0.22">Area coverage (%)</text>
<line x1="438.10" y1="69.80" x2="467.00" y2="69.80" stroke="#6a6a6a" stroke-width="1.4" />
<circle cx="449.65" cy="65.60" r="1.05" fill="#151515"/>
<circle cx="452.80" cy="65.60" r="1.05" fill="#151515"/>
<circle cx="455.95" cy="65.60" r="1.05" fill="#151515"/>
<line x1="438.90" y1="76.00" x2="438.90" y2="86.20" stroke="#6f6f6f" stroke-width="1.1" />
<line x1="433.80" y1="76.00" x2="444.00" y2="76.00" stroke="#6f6f6f" stroke-width="1.1" />
<line x1="438.90" y1="104.60" x2="438.90" y2="113.30" stroke="#6f6f6f" stroke-width="1.1" />
<line x1="433.80" y1="113.30" x2="444.00" y2="113.30" stroke="#6f6f6f" stroke-width="1.1" />
<rect x="430.9" y="86.1" width="16.1" height="18.5" fill="#2b4c87" stroke="#203f78" stroke-width="0.6"/>
<line x1="430.90" y1="96.20" x2="447.00" y2="96.20" stroke="#000" stroke-width="1.4" />
<line x1="465.50" y1="97.30" x2="465.50" y2="125.00" stroke="#222" stroke-width="1.1" />
<line x1="460.50" y1="97.30" x2="470.80" y2="97.30" stroke="#222" stroke-width="1.1" />
<line x1="465.50" y1="142.40" x2="465.50" y2="151.90" stroke="#222" stroke-width="1.1" />
<line x1="460.50" y1="151.90" x2="470.80" y2="151.90" stroke="#222" stroke-width="1.1" />
<rect x="457.4" y="125.0" width="16.3" height="17.5" fill="#a9002b" stroke="#8a0022" stroke-width="0.6"/>
<line x1="457.40" y1="131.80" x2="473.70" y2="131.80" stroke="#200" stroke-width="1.4" />
<line x1="43.50" y1="229.30" x2="43.50" y2="330.30" stroke="#111" stroke-width="1.2" />
<line x1="42.90" y1="329.80" x2="121.70" y2="329.80" stroke="#111" stroke-width="1.2" />
<line x1="40.50" y1="320.70" x2="43.50" y2="320.70" stroke="#111" stroke-width="1.0" />
<text x="37.30" y="323.70" font-size="8.4" text-anchor="end" fill="#111" font-weight="normal" >0</text>
<line x1="40.50" y1="303.00" x2="43.50" y2="303.00" stroke="#111" stroke-width="1.0" />
<text x="37.30" y="306.00" font-size="8.4" text-anchor="end" fill="#111" font-weight="normal" >20</text>
<line x1="40.50" y1="285.30" x2="43.50" y2="285.30" stroke="#111" stroke-width="1.0" />
<text x="37.30" y="288.30" font-size="8.4" text-anchor="end" fill="#111" font-weight="normal" >40</text>
<line x1="40.50" y1="267.60" x2="43.50" y2="267.60" stroke="#111" stroke-width="1.0" />
<text x="37.30" y="270.60" font-size="8.4" text-anchor="end" fill="#111" font-weight="normal" >60</text>
<line x1="40.50" y1="249.90" x2="43.50" y2="249.90" stroke="#111" stroke-width="1.0" />
<text x="37.30" y="252.90" font-size="8.4" text-anchor="end" fill="#111" font-weight="normal" >80</text>
<line x1="40.50" y1="232.20" x2="43.50" y2="232.20" stroke="#111" stroke-width="1.0" />
<text x="37.30" y="235.20" font-size="8.4" text-anchor="end" fill="#111" font-weight="normal" >100</text>
<line x1="49.90" y1="329.80" x2="49.90" y2="332.80" stroke="#111" stroke-width="1.0" />
<text x="50.20" y="344.00" font-size="8.3" text-anchor="middle" fill="#111" font-weight="normal" >-9</text>
<line x1="63.70" y1="329.80" x2="63.70" y2="332.80" stroke="#111" stroke-width="1.0" />
<text x="64.00" y="344.00" font-size="8.3" text-anchor="middle" fill="#111" font-weight="normal" >-8</text>
<line x1="77.50" y1="329.80" x2="77.50" y2="332.80" stroke="#111" stroke-width="1.0" />
<text x="77.80" y="344.00" font-size="8.3" text-anchor="middle" fill="#111" font-weight="normal" >-7</text>
<line x1="91.30" y1="329.80" x2="91.30" y2="332.80" stroke="#111" stroke-width="1.0" />
<text x="91.60" y="344.00" font-size="8.3" text-anchor="middle" fill="#111" font-weight="normal" >-6</text>
<line x1="105.10" y1="329.80" x2="105.10" y2="332.80" stroke="#111" stroke-width="1.0" />
<text x="105.40" y="344.00" font-size="8.3" text-anchor="middle" fill="#111" font-weight="normal" >-5</text>
<line x1="118.90" y1="329.80" x2="118.90" y2="332.80" stroke="#111" stroke-width="1.0" />
<text x="119.20" y="344.00" font-size="8.3" text-anchor="middle" fill="#111" font-weight="normal" >-4</text>
<text x="51.30" y="357.90" font-size="10.4" fill="#111" textLength="31.70" lengthAdjust="spacingAndGlyphs" stroke="#222" stroke-width="0.22">[Collagen]</text>
<text x="86.30" y="357.90" font-size="10.4" fill="#111" textLength="31.70" lengthAdjust="spacingAndGlyphs" stroke="#222" stroke-width="0.22">(log g/ml)</text>
<text transform="translate(16.30,301.10) rotate(-90)" x="0" y="0" font-size="10.4" text-anchor="start" fill="#111" textLength="50.40" lengthAdjust="spacingAndGlyphs" stroke="#222" stroke-width="0.22">Aggregation (%)</text>
<line x1="63.70" y1="308.56" x2="63.70" y2="319.56" stroke="#3e5e98" stroke-width="1.15" opacity="0.6"/>
<line x1="71.98" y1="302.73" x2="71.98" y2="316.73" stroke="#3e5e98" stroke-width="1.15" opacity="0.6"/>
<line x1="80.26" y1="246.09" x2="80.26" y2="263.09" stroke="#3e5e98" stroke-width="1.15" opacity="0.6"/>
<line x1="113.38" y1="235.52" x2="113.38" y2="245.52" stroke="#3e5e98" stroke-width="1.15" opacity="0.6"/>
<line x1="80.26" y1="305.93" x2="80.26" y2="311.93" stroke="#c0173f" stroke-width="1.15" opacity="0.6"/>
<line x1="88.54" y1="287.03" x2="88.54" y2="300.03" stroke="#c0173f" stroke-width="1.15" opacity="0.6"/>
<line x1="96.82" y1="261.94" x2="96.82" y2="277.34" stroke="#c0173f" stroke-width="1.15" opacity="0.6"/>
<line x1="105.10" y1="258.81" x2="105.10" y2="274.61" stroke="#c0173f" stroke-width="1.15" opacity="0.6"/>
<line x1="113.38" y1="261.49" x2="113.38" y2="275.49" stroke="#c0173f" stroke-width="1.15" opacity="0.6"/>
<polyline points="63.70,320.57 64.32,320.55 64.94,320.52 65.56,320.49 66.18,320.46 66.80,320.42 67.43,320.37 68.05,320.32 68.67,320.25 69.29,320.18 69.91,320.09 70.53,319.99 71.15,319.87 71.77,319.74 72.39,319.58 73.02,319.39 73.64,319.18 74.26,318.93 74.88,318.65 75.50,318.31 76.12,317.93 76.74,317.50 77.36,316.99 77.98,316.42 78.60,315.76 79.23,315.02 79.85,314.18 80.47,313.23 81.09,312.17 81.71,310.99 82.33,309.68 82.95,308.25 83.57,306.69 84.19,305.01 84.81,303.21 85.44,301.31 86.06,299.32 86.68,297.26 87.30,295.16 87.92,293.03 88.54,290.90 89.16,288.80 89.78,286.76 90.40,284.79 91.02,282.91 91.64,281.13 92.27,279.48 92.89,277.95 93.51,276.54 94.13,275.27 94.75,274.11 95.37,273.08 95.99,272.16 96.61,271.34 97.23,270.61 97.85,269.98 98.48,269.42 99.10,268.93 99.72,268.51 100.34,268.14 100.96,267.82 101.58,267.54 102.20,267.30 102.82,267.09 103.44,266.92 104.06,266.76 104.69,266.63 105.31,266.52 105.93,266.42 106.55,266.33 107.17,266.26 107.79,266.20 108.41,266.15 109.03,266.10 109.65,266.06 110.28,266.03 110.90,266.00 111.52,265.98 112.14,265.96 112.76,265.94 113.38,265.92" fill="none" stroke="#c0173f" stroke-width="1.2"/>
<polyline points="55.42,320.68 56.14,320.67 56.87,320.66 57.59,320.65 58.32,320.63 59.04,320.61 59.77,320.59 60.49,320.55 61.22,320.50 61.94,320.44 62.67,320.35 63.39,320.24 64.11,320.10 64.84,319.91 65.56,319.65 66.29,319.32 67.01,318.89 67.74,318.33 68.46,317.60 69.19,316.65 69.91,315.44 70.63,313.89 71.36,311.93 72.08,309.50 72.81,306.52 73.53,302.94 74.26,298.74 74.98,293.95 75.71,288.66 76.43,283.02 77.16,277.22 77.88,271.49 78.60,266.03 79.33,261.01 80.05,256.55 80.78,252.71 81.50,249.47 82.23,246.81 82.95,244.66 83.68,242.95 84.40,241.60 85.12,240.54 85.85,239.73 86.57,239.10 87.30,238.61 88.02,238.24 88.75,237.96 89.47,237.75 90.20,237.58 90.92,237.46 91.65,237.36 92.37,237.29 93.09,237.24 93.82,237.20 94.54,237.17 95.27,237.14 95.99,237.12 96.72,237.11 97.44,237.10 98.17,237.09 98.89,237.09 99.61,237.08 100.34,237.08 101.06,237.08 101.79,237.07 102.51,237.07 103.24,237.07 103.96,237.07 104.69,237.07 105.41,237.07 106.13,237.07 106.86,237.07 107.58,237.07 108.31,237.07 109.03,237.07 109.76,237.07 110.48,237.07 111.21,237.07 111.93,237.07 112.66,237.07 113.38,237.07" fill="none" stroke="#3e5e98" stroke-width="1.2"/>
<circle cx="55.42" cy="320.70" r="1.4" fill="#fff" stroke="#333" stroke-width="1.05"/>
<circle cx="63.70" cy="314.06" r="1.4" fill="#fff" stroke="#333" stroke-width="1.05"/>
<circle cx="71.98" cy="309.73" r="1.4" fill="#fff" stroke="#333" stroke-width="1.05"/>
<circle cx="80.26" cy="254.59" r="1.4" fill="#fff" stroke="#333" stroke-width="1.05"/>
<circle cx="88.54" cy="234.85" r="1.4" fill="#fff" stroke="#333" stroke-width="1.05"/>
<circle cx="96.82" cy="236.62" r="1.4" fill="#fff" stroke="#333" stroke-width="1.05"/>
<circle cx="105.10" cy="237.51" r="1.4" fill="#fff" stroke="#333" stroke-width="1.05"/>
<circle cx="113.38" cy="240.52" r="1.4" fill="#fff" stroke="#333" stroke-width="1.05"/>
<circle cx="63.70" cy="320.70" r="1.4" fill="#fff" stroke="#333" stroke-width="1.05"/>
<circle cx="71.98" cy="320.26" r="1.4" fill="#fff" stroke="#333" stroke-width="1.05"/>
<circle cx="80.26" cy="308.93" r="1.4" fill="#fff" stroke="#333" stroke-width="1.05"/>
<circle cx="88.54" cy="293.53" r="1.4" fill="#fff" stroke="#333" stroke-width="1.05"/>
<circle cx="96.82" cy="269.64" r="1.4" fill="#fff" stroke="#333" stroke-width="1.05"/>
<circle cx="105.10" cy="266.71" r="1.4" fill="#fff" stroke="#333" stroke-width="1.05"/>
<circle cx="113.38" cy="268.49" r="1.4" fill="#fff" stroke="#333" stroke-width="1.05"/>
<circle cx="95.72" cy="252.60" r="1.05" fill="#151515"/>
<circle cx="98.88" cy="252.60" r="1.05" fill="#151515"/>
<circle cx="105.10" cy="252.60" r="1.05" fill="#151515"/>
<circle cx="113.40" cy="252.60" r="1.05" fill="#151515"/>
<circle cx="84.85" cy="273.20" r="1.05" fill="#151515"/>
<circle cx="88.00" cy="273.20" r="1.05" fill="#151515"/>
<circle cx="91.15" cy="273.20" r="1.05" fill="#151515"/>
<circle cx="78.42" cy="300.60" r="1.05" fill="#151515"/>
<circle cx="81.58" cy="300.60" r="1.05" fill="#151515"/>
<line x1="175.00" y1="229.30" x2="175.00" y2="330.30" stroke="#111" stroke-width="1.2" />
<line x1="174.40" y1="329.80" x2="254.20" y2="329.80" stroke="#111" stroke-width="1.2" />
<line x1="172.00" y1="320.70" x2="175.00" y2="320.70" stroke="#111" stroke-width="1.0" />
<text x="168.80" y="323.70" font-size="8.4" text-anchor="end" fill="#111" font-weight="normal" >0</text>
<line x1="172.00" y1="303.00" x2="175.00" y2="303.00" stroke="#111" stroke-width="1.0" />
<text x="168.80" y="306.00" font-size="8.4" text-anchor="end" fill="#111" font-weight="normal" >20</text>
<line x1="172.00" y1="285.30" x2="175.00" y2="285.30" stroke="#111" stroke-width="1.0" />
<text x="168.80" y="288.30" font-size="8.4" text-anchor="end" fill="#111" font-weight="normal" >40</text>
<line x1="172.00" y1="267.60" x2="175.00" y2="267.60" stroke="#111" stroke-width="1.0" />
<text x="168.80" y="270.60" font-size="8.4" text-anchor="end" fill="#111" font-weight="normal" >60</text>
<line x1="172.00" y1="249.90" x2="175.00" y2="249.90" stroke="#111" stroke-width="1.0" />
<text x="168.80" y="252.90" font-size="8.4" text-anchor="end" fill="#111" font-weight="normal" >80</text>
<line x1="172.00" y1="232.20" x2="175.00" y2="232.20" stroke="#111" stroke-width="1.0" />
<text x="168.80" y="235.20" font-size="8.4" text-anchor="end" fill="#111" font-weight="normal" >100</text>
<line x1="182.00" y1="329.80" x2="182.00" y2="332.80" stroke="#111" stroke-width="1.0" />
<text x="182.30" y="344.00" font-size="8.3" text-anchor="middle" fill="#111" font-weight="normal" >-10</text>
<line x1="195.85" y1="329.80" x2="195.85" y2="332.80" stroke="#111" stroke-width="1.0" />
<text x="196.15" y="344.00" font-size="8.3" text-anchor="middle" fill="#111" font-weight="normal" >-9</text>
<line x1="209.70" y1="329.80" x2="209.70" y2="332.80" stroke="#111" stroke-width="1.0" />
<text x="210.00" y="344.00" font-size="8.3" text-anchor="middle" fill="#111" font-weight="normal" >-8</text>
<line x1="223.55" y1="329.80" x2="223.55" y2="332.80" stroke="#111" stroke-width="1.0" />
<text x="223.85" y="344.00" font-size="8.3" text-anchor="middle" fill="#111" font-weight="normal" >-7</text>
<line x1="237.40" y1="329.80" x2="237.40" y2="332.80" stroke="#111" stroke-width="1.0" />
<text x="237.70" y="344.00" font-size="8.3" text-anchor="middle" fill="#111" font-weight="normal" >-6</text>
<line x1="251.25" y1="329.80" x2="251.25" y2="332.80" stroke="#111" stroke-width="1.0" />
<text x="251.55" y="344.00" font-size="8.3" text-anchor="middle" fill="#111" font-weight="normal" >-5</text>
<text x="183.90" y="357.90" font-size="10.4" fill="#111" textLength="29.20" lengthAdjust="spacingAndGlyphs" stroke="#222" stroke-width="0.22">[CRP-XL]</text>
<text x="216.70" y="357.90" font-size="10.4" fill="#111" textLength="31.40" lengthAdjust="spacingAndGlyphs" stroke="#222" stroke-width="0.22">(log g/ml)</text>
<text transform="translate(147.80,301.60) rotate(-90)" x="0" y="0" font-size="10.4" text-anchor="start" fill="#111" textLength="51.20" lengthAdjust="spacingAndGlyphs" stroke="#222" stroke-width="0.22">Aggregation (%)</text>
<line x1="200.42" y1="306.98" x2="200.42" y2="319.38" stroke="#3e5e98" stroke-width="1.15" opacity="0.6"/>
<line x1="206.51" y1="308.39" x2="206.51" y2="319.39" stroke="#3e5e98" stroke-width="1.15" opacity="0.6"/>
<line x1="212.61" y1="294.97" x2="212.61" y2="309.97" stroke="#3e5e98" stroke-width="1.15" opacity="0.6"/>
<line x1="218.70" y1="256.20" x2="218.70" y2="279.00" stroke="#3e5e98" stroke-width="1.15" opacity="0.6"/>
<line x1="231.03" y1="237.03" x2="231.03" y2="246.84" stroke="#3e5e98" stroke-width="1.15" opacity="0.6"/>
<line x1="218.70" y1="296.07" x2="218.70" y2="308.87" stroke="#c0173f" stroke-width="1.15" opacity="0.6"/>
<line x1="224.93" y1="283.71" x2="224.93" y2="297.51" stroke="#c0173f" stroke-width="1.15" opacity="0.6"/>
<line x1="231.03" y1="268.98" x2="231.03" y2="283.38" stroke="#c0173f" stroke-width="1.15" opacity="0.6"/>
<line x1="237.40" y1="267.44" x2="237.40" y2="281.04" stroke="#c0173f" stroke-width="1.15" opacity="0.6"/>
<polyline points="195.85,320.59 196.37,320.58 196.89,320.56 197.41,320.55 197.93,320.53 198.45,320.51 198.97,320.48 199.49,320.45 200.00,320.42 200.52,320.39 201.04,320.35 201.56,320.30 202.08,320.25 202.60,320.19 203.12,320.13 203.64,320.06 204.16,319.97 204.68,319.88 205.20,319.78 205.72,319.66 206.24,319.53 206.76,319.39 207.28,319.22 207.80,319.04 208.31,318.84 208.83,318.61 209.35,318.35 209.87,318.07 210.39,317.75 210.91,317.39 211.43,317.00 211.95,316.57 212.47,316.09 212.99,315.56 213.51,314.97 214.03,314.33 214.55,313.63 215.07,312.87 215.59,312.04 216.11,311.15 216.62,310.19 217.14,309.16 217.66,308.06 218.18,306.90 218.70,305.67 219.22,304.39 219.74,303.05 220.26,301.67 220.78,300.25 221.30,298.81 221.82,297.34 222.34,295.87 222.86,294.41 223.38,292.95 223.90,291.52 224.42,290.13 224.93,288.78 225.45,287.48 225.97,286.23 226.49,285.05 227.01,283.93 227.53,282.87 228.05,281.89 228.57,280.97 229.09,280.12 229.61,279.34 230.13,278.62 230.65,277.96 231.17,277.36 231.69,276.81 232.21,276.31 232.73,275.86 233.25,275.46 233.76,275.09 234.28,274.76 234.80,274.47 235.32,274.20 235.84,273.96 236.36,273.75 236.88,273.56 237.40,273.39" fill="none" stroke="#c0173f" stroke-width="1.2"/>
<polyline points="195.85,317.13 196.37,317.12 196.89,317.11 197.41,317.10 197.93,317.09 198.45,317.07 198.97,317.05 199.49,317.03 200.00,317.00 200.52,316.97 201.04,316.93 201.56,316.88 202.08,316.82 202.60,316.75 203.12,316.67 203.64,316.57 204.16,316.45 204.68,316.30 205.20,316.12 205.72,315.91 206.24,315.65 206.76,315.34 207.28,314.97 207.80,314.53 208.31,314.00 208.83,313.38 209.35,312.63 209.87,311.75 210.39,310.72 210.91,309.51 211.43,308.10 211.95,306.47 212.47,304.60 212.99,302.48 213.51,300.09 214.03,297.45 214.55,294.55 215.07,291.42 215.59,288.09 216.11,284.61 216.62,281.03 217.14,277.42 217.66,273.84 218.18,270.35 218.70,267.01 219.22,263.86 219.74,260.95 220.26,258.29 220.78,255.88 221.30,253.75 221.82,251.86 222.34,250.22 222.86,248.79 223.38,247.57 223.90,246.52 224.42,245.63 224.93,244.88 225.45,244.24 225.97,243.71 226.49,243.26 227.01,242.89 227.53,242.58 228.05,242.32 228.57,242.10 229.09,241.92 229.61,241.77 230.13,241.65 230.65,241.55 231.17,241.46 231.69,241.39 232.21,241.33 232.73,241.28 233.25,241.24 233.76,241.21 234.28,241.18 234.80,241.16 235.32,241.14 235.84,241.12 236.36,241.11 236.88,241.10 237.40,241.09" fill="none" stroke="#3e5e98" stroke-width="1.2"/>
<circle cx="195.85" cy="320.70" r="1.4" fill="#fff" stroke="#333" stroke-width="1.05"/>
<circle cx="200.42" cy="313.18" r="1.4" fill="#fff" stroke="#333" stroke-width="1.05"/>
<circle cx="206.51" cy="313.89" r="1.4" fill="#fff" stroke="#333" stroke-width="1.05"/>
<circle cx="212.61" cy="302.47" r="1.4" fill="#fff" stroke="#333" stroke-width="1.05"/>
<circle cx="218.70" cy="267.60" r="1.4" fill="#fff" stroke="#333" stroke-width="1.05"/>
<circle cx="224.93" cy="243.70" r="1.4" fill="#fff" stroke="#333" stroke-width="1.05"/>
<circle cx="231.03" cy="241.94" r="1.4" fill="#fff" stroke="#333" stroke-width="1.05"/>
<circle cx="237.40" cy="240.78" r="1.4" fill="#fff" stroke="#333" stroke-width="1.05"/>
<circle cx="195.85" cy="320.70" r="1.4" fill="#fff" stroke="#333" stroke-width="1.05"/>
<circle cx="200.42" cy="319.20" r="1.4" fill="#fff" stroke="#333" stroke-width="1.05"/>
<circle cx="206.51" cy="318.40" r="1.4" fill="#fff" stroke="#333" stroke-width="1.05"/>
<circle cx="212.61" cy="314.42" r="1.4" fill="#fff" stroke="#333" stroke-width="1.05"/>
<circle cx="218.70" cy="302.47" r="1.4" fill="#fff" stroke="#333" stroke-width="1.05"/>
<circle cx="224.93" cy="290.61" r="1.4" fill="#fff" stroke="#333" stroke-width="1.05"/>
<circle cx="231.03" cy="276.18" r="1.4" fill="#fff" stroke="#333" stroke-width="1.05"/>
<circle cx="237.40" cy="274.24" r="1.4" fill="#fff" stroke="#333" stroke-width="1.05"/>
<circle cx="235.93" cy="254.90" r="1.05" fill="#151515"/>
<circle cx="239.07" cy="254.90" r="1.05" fill="#151515"/>
<circle cx="229.12" cy="264.20" r="1.05" fill="#151515"/>
<circle cx="232.27" cy="264.20" r="1.05" fill="#151515"/>
<circle cx="221.25" cy="274.50" r="1.05" fill="#151515"/>
<circle cx="224.40" cy="274.50" r="1.05" fill="#151515"/>
<circle cx="227.55" cy="274.50" r="1.05" fill="#151515"/>
<circle cx="217.53" cy="288.90" r="1.05" fill="#151515"/>
<circle cx="220.67" cy="288.90" r="1.05" fill="#151515"/>
<line x1="307.20" y1="229.30" x2="307.20" y2="330.30" stroke="#111" stroke-width="1.2" />
<line x1="306.60" y1="329.80" x2="385.40" y2="329.80" stroke="#111" stroke-width="1.2" />
<line x1="304.20" y1="320.70" x2="307.20" y2="320.70" stroke="#111" stroke-width="1.0" />
<text x="301.00" y="323.70" font-size="8.4" text-anchor="end" fill="#111" font-weight="normal" >0</text>
<line x1="304.20" y1="303.00" x2="307.20" y2="303.00" stroke="#111" stroke-width="1.0" />
<text x="301.00" y="306.00" font-size="8.4" text-anchor="end" fill="#111" font-weight="normal" >20</text>
<line x1="304.20" y1="285.30" x2="307.20" y2="285.30" stroke="#111" stroke-width="1.0" />
<text x="301.00" y="288.30" font-size="8.4" text-anchor="end" fill="#111" font-weight="normal" >40</text>
<line x1="304.20" y1="267.60" x2="307.20" y2="267.60" stroke="#111" stroke-width="1.0" />
<text x="301.00" y="270.60" font-size="8.4" text-anchor="end" fill="#111" font-weight="normal" >60</text>
<line x1="304.20" y1="249.90" x2="307.20" y2="249.90" stroke="#111" stroke-width="1.0" />
<text x="301.00" y="252.90" font-size="8.4" text-anchor="end" fill="#111" font-weight="normal" >80</text>
<line x1="304.20" y1="232.20" x2="307.20" y2="232.20" stroke="#111" stroke-width="1.0" />
<text x="301.00" y="235.20" font-size="8.4" text-anchor="end" fill="#111" font-weight="normal" >100</text>
<line x1="313.70" y1="329.80" x2="313.70" y2="332.80" stroke="#111" stroke-width="1.0" />
<text x="314.00" y="344.00" font-size="8.3" text-anchor="middle" fill="#111" font-weight="normal" >-10</text>
<line x1="336.66" y1="329.80" x2="336.66" y2="332.80" stroke="#111" stroke-width="1.0" />
<text x="336.96" y="344.00" font-size="8.3" text-anchor="middle" fill="#111" font-weight="normal" >-8</text>
<line x1="359.62" y1="329.80" x2="359.62" y2="332.80" stroke="#111" stroke-width="1.0" />
<text x="359.92" y="344.00" font-size="8.3" text-anchor="middle" fill="#111" font-weight="normal" >-6</text>
<line x1="382.58" y1="329.80" x2="382.58" y2="332.80" stroke="#111" stroke-width="1.0" />
<text x="382.88" y="344.00" font-size="8.3" text-anchor="middle" fill="#111" font-weight="normal" >-4</text>
<text x="325.60" y="357.90" font-size="10.4" fill="#111" textLength="18.40" lengthAdjust="spacingAndGlyphs" stroke="#222" stroke-width="0.22">[ADP]</text>
<text x="347.50" y="357.90" font-size="10.4" fill="#111" textLength="22.50" lengthAdjust="spacingAndGlyphs" stroke="#222" stroke-width="0.22">(log M)</text>
<text transform="translate(280.00,302.00) rotate(-90)" x="0" y="0" font-size="10.4" text-anchor="start" fill="#111" textLength="51.60" lengthAdjust="spacingAndGlyphs" stroke="#222" stroke-width="0.22">Aggregation (%)</text>
<line x1="348.14" y1="311.10" x2="348.14" y2="321.10" stroke="#3e5e98" stroke-width="1.15" opacity="0.6"/>
<line x1="378.10" y1="233.27" x2="378.10" y2="239.27" stroke="#3e5e98" stroke-width="1.15" opacity="0.6"/>
<line x1="370.76" y1="251.19" x2="370.76" y2="264.19" stroke="#c0173f" stroke-width="1.15" opacity="0.6"/>
<line x1="378.10" y1="239.14" x2="378.10" y2="252.34" stroke="#c0173f" stroke-width="1.15" opacity="0.6"/>
<polyline points="325.18,320.69 325.84,320.69 326.50,320.69 327.16,320.69 327.83,320.69 328.49,320.69 329.15,320.69 329.81,320.68 330.47,320.68 331.13,320.68 331.80,320.67 332.46,320.67 333.12,320.66 333.78,320.66 334.44,320.65 335.10,320.64 335.76,320.63 336.43,320.62 337.09,320.61 337.75,320.59 338.41,320.57 339.07,320.55 339.73,320.53 340.40,320.50 341.06,320.46 341.72,320.42 342.38,320.37 343.04,320.31 343.70,320.25 344.36,320.17 345.03,320.08 345.69,319.97 346.35,319.85 347.01,319.70 347.67,319.53 348.33,319.34 349.00,319.10 349.66,318.84 350.32,318.52 350.98,318.16 351.64,317.74 352.30,317.25 352.96,316.68 353.63,316.03 354.29,315.28 354.95,314.42 355.61,313.43 356.27,312.31 356.93,311.03 357.60,309.60 358.26,307.99 358.92,306.19 359.58,304.21 360.24,302.03 360.90,299.66 361.56,297.10 362.23,294.38 362.89,291.50 363.55,288.50 364.21,285.40 364.87,282.25 365.53,279.08 366.20,275.93 366.86,272.85 367.52,269.86 368.18,267.00 368.84,264.30 369.50,261.77 370.16,259.42 370.83,257.27 371.49,255.31 372.15,253.54 372.81,251.95 373.47,250.54 374.13,249.29 374.80,248.18 375.46,247.21 376.12,246.37 376.78,245.63 377.44,244.99 378.10,244.43" fill="none" stroke="#c0173f" stroke-width="1.2"/>
<polyline points="325.18,320.70 325.84,320.70 326.50,320.70 327.16,320.70 327.83,320.70 328.49,320.70 329.15,320.70 329.81,320.70 330.47,320.70 331.13,320.70 331.80,320.70 332.46,320.70 333.12,320.70 333.78,320.69 334.44,320.69 335.10,320.69 335.76,320.69 336.43,320.69 337.09,320.68 337.75,320.68 338.41,320.67 339.07,320.66 339.73,320.65 340.40,320.64 341.06,320.62 341.72,320.60 342.38,320.57 343.04,320.53 343.70,320.49 344.36,320.43 345.03,320.35 345.69,320.26 346.35,320.13 347.01,319.98 347.67,319.78 348.33,319.53 349.00,319.21 349.66,318.80 350.32,318.28 350.98,317.64 351.64,316.83 352.30,315.81 352.96,314.55 353.63,313.00 354.29,311.10 354.95,308.81 355.61,306.08 356.27,302.88 356.93,299.19 357.60,295.04 358.26,290.48 358.92,285.60 359.58,280.53 360.24,275.41 360.90,270.39 361.56,265.61 362.23,261.19 362.89,257.20 363.55,253.69 364.21,250.66 364.87,248.09 365.53,245.95 366.20,244.18 366.86,242.74 367.52,241.57 368.18,240.63 368.84,239.88 369.50,239.28 370.16,238.81 370.83,238.44 371.49,238.14 372.15,237.91 372.81,237.73 373.47,237.59 374.13,237.47 374.80,237.39 375.46,237.32 376.12,237.26 376.78,237.22 377.44,237.19 378.10,237.16" fill="none" stroke="#3e5e98" stroke-width="1.2"/>
<circle cx="325.18" cy="320.70" r="1.4" fill="#fff" stroke="#333" stroke-width="1.05"/>
<circle cx="333.22" cy="318.40" r="1.4" fill="#fff" stroke="#333" stroke-width="1.05"/>
<circle cx="340.45" cy="320.26" r="1.4" fill="#fff" stroke="#333" stroke-width="1.05"/>
<circle cx="348.14" cy="316.10" r="1.4" fill="#fff" stroke="#333" stroke-width="1.05"/>
<circle cx="355.03" cy="308.31" r="1.4" fill="#fff" stroke="#333" stroke-width="1.05"/>
<circle cx="363.06" cy="254.77" r="1.4" fill="#fff" stroke="#333" stroke-width="1.05"/>
<circle cx="370.76" cy="239.01" r="1.4" fill="#fff" stroke="#333" stroke-width="1.05"/>
<circle cx="378.10" cy="236.27" r="1.4" fill="#fff" stroke="#333" stroke-width="1.05"/>
<circle cx="333.22" cy="319.37" r="1.4" fill="#fff" stroke="#333" stroke-width="1.05"/>
<circle cx="348.14" cy="318.93" r="1.4" fill="#fff" stroke="#333" stroke-width="1.05"/>
<circle cx="355.03" cy="314.59" r="1.4" fill="#fff" stroke="#333" stroke-width="1.05"/>
<circle cx="363.06" cy="292.38" r="1.4" fill="#fff" stroke="#333" stroke-width="1.05"/>
<circle cx="370.76" cy="257.69" r="1.4" fill="#fff" stroke="#333" stroke-width="1.05"/>
<circle cx="378.10" cy="245.74" r="1.4" fill="#fff" stroke="#333" stroke-width="1.05"/>
<circle cx="362.73" cy="269.70" r="1.05" fill="#151515"/>
<circle cx="365.88" cy="269.70" r="1.05" fill="#151515"/>
<line x1="437.50" y1="230.00" x2="437.50" y2="330.30" stroke="#111" stroke-width="1.2" />
<line x1="436.90" y1="329.90" x2="512.40" y2="329.90" stroke="#111" stroke-width="1.2" />
<line x1="434.50" y1="320.70" x2="437.50" y2="320.70" stroke="#111" stroke-width="1.0" />
<text x="431.30" y="323.70" font-size="8.4" text-anchor="end" fill="#111" font-weight="normal" >0</text>
<line x1="434.50" y1="291.20" x2="437.50" y2="291.20" stroke="#111" stroke-width="1.0" />
<text x="431.30" y="294.20" font-size="8.4" text-anchor="end" fill="#111" font-weight="normal" >20</text>
<line x1="434.50" y1="261.70" x2="437.50" y2="261.70" stroke="#111" stroke-width="1.0" />
<text x="431.30" y="264.70" font-size="8.4" text-anchor="end" fill="#111" font-weight="normal" >40</text>
<line x1="434.50" y1="232.20" x2="437.50" y2="232.20" stroke="#111" stroke-width="1.0" />
<text x="431.30" y="235.20" font-size="8.4" text-anchor="end" fill="#111" font-weight="normal" >60</text>
<line x1="454.20" y1="329.90" x2="454.20" y2="332.80" stroke="#111" stroke-width="1.0" />
<line x1="478.10" y1="329.90" x2="478.10" y2="332.80" stroke="#111" stroke-width="1.0" />
<line x1="501.80" y1="329.90" x2="501.80" y2="332.80" stroke="#111" stroke-width="1.0" />
<text transform="translate(458.40,339.50) rotate(-45)" x="0" y="0" font-size="9.0" text-anchor="end" fill="#111">VEH</text>
<text transform="translate(482.40,338.80) rotate(-45)" x="0" y="0" font-size="9.0" text-anchor="end" fill="#111">CRP-XL</text>
<text transform="translate(505.40,339.20) rotate(-45)" x="0" y="0" font-size="9.0" text-anchor="end" fill="#111">ADP</text>
<text transform="translate(415.00,315.50) rotate(-90)" x="0" y="0" font-size="10.4" text-anchor="start" fill="#111" textLength="30.60" lengthAdjust="spacingAndGlyphs" stroke="#222" stroke-width="0.22">P-selectin</text>
<text transform="translate(413.10,285.00) rotate(-90)" x="0" y="0" font-size="7.4" text-anchor="start" fill="#111" textLength="3.50" lengthAdjust="spacingAndGlyphs" stroke="#222" stroke-width="0.22">+</text>
<text transform="translate(415.00,278.00) rotate(-90)" x="0" y="0" font-size="10.4" text-anchor="start" fill="#111" textLength="39.80" lengthAdjust="spacingAndGlyphs" stroke="#222" stroke-width="0.22">platelets (%)</text>
<line x1="449.90" y1="309.49" x2="449.90" y2="311.41" stroke="#3e5e98" stroke-width="1.0" />
<line x1="448.40" y1="309.49" x2="451.40" y2="309.49" stroke="#3e5e98" stroke-width="1.0" />
<rect x="447.00" y="311.41" width="5.8" height="9.29" fill="#2b4c87"/>
<line x1="458.80" y1="294.74" x2="458.80" y2="297.99" stroke="#c0173f" stroke-width="1.0" />
<line x1="457.30" y1="294.74" x2="460.30" y2="294.74" stroke="#c0173f" stroke-width="1.0" />
<rect x="455.90" y="297.99" width="5.8" height="22.71" fill="#a9002b"/>
<line x1="473.70" y1="234.41" x2="473.70" y2="245.47" stroke="#3e5e98" stroke-width="1.0" />
<line x1="472.20" y1="234.41" x2="475.20" y2="234.41" stroke="#3e5e98" stroke-width="1.0" />
<rect x="470.80" y="245.47" width="5.8" height="75.23" fill="#2b4c87"/>
<line x1="482.60" y1="272.91" x2="482.60" y2="283.68" stroke="#c0173f" stroke-width="1.0" />
<line x1="481.10" y1="272.91" x2="484.10" y2="272.91" stroke="#c0173f" stroke-width="1.0" />
<rect x="479.70" y="283.68" width="5.8" height="37.02" fill="#a9002b"/>
<line x1="497.60" y1="287.37" x2="497.60" y2="292.97" stroke="#3e5e98" stroke-width="1.0" />
<line x1="496.10" y1="287.37" x2="499.10" y2="287.37" stroke="#3e5e98" stroke-width="1.0" />
<rect x="494.70" y="292.97" width="5.8" height="27.73" fill="#2b4c87"/>
<line x1="506.40" y1="280.14" x2="506.40" y2="286.48" stroke="#c0173f" stroke-width="1.0" />
<line x1="504.90" y1="280.14" x2="507.90" y2="280.14" stroke="#c0173f" stroke-width="1.0" />
<rect x="503.50" y="286.48" width="5.8" height="34.22" fill="#a9002b"/>
<line x1="450.90" y1="289.00" x2="459.00" y2="289.00" stroke="#505050" stroke-width="1.5" />
<circle cx="453.43" cy="286.30" r="1.05" fill="#151515"/>
<circle cx="456.57" cy="286.30" r="1.05" fill="#151515"/>
<line x1="474.00" y1="229.40" x2="482.90" y2="229.40" stroke="#222" stroke-width="1.1" />
<circle cx="478.60" cy="226.50" r="1.05" fill="#151515"/>
<text x="496.60" y="273.40" font-size="7.8" text-anchor="start" fill="#222" font-weight="normal" textLength="11.2" lengthAdjust="spacingAndGlyphs" font-style="italic">n.s.</text>
<line x1="498.00" y1="275.00" x2="506.80" y2="275.00" stroke="#444" stroke-width="1.5" />
</svg></body></html>
